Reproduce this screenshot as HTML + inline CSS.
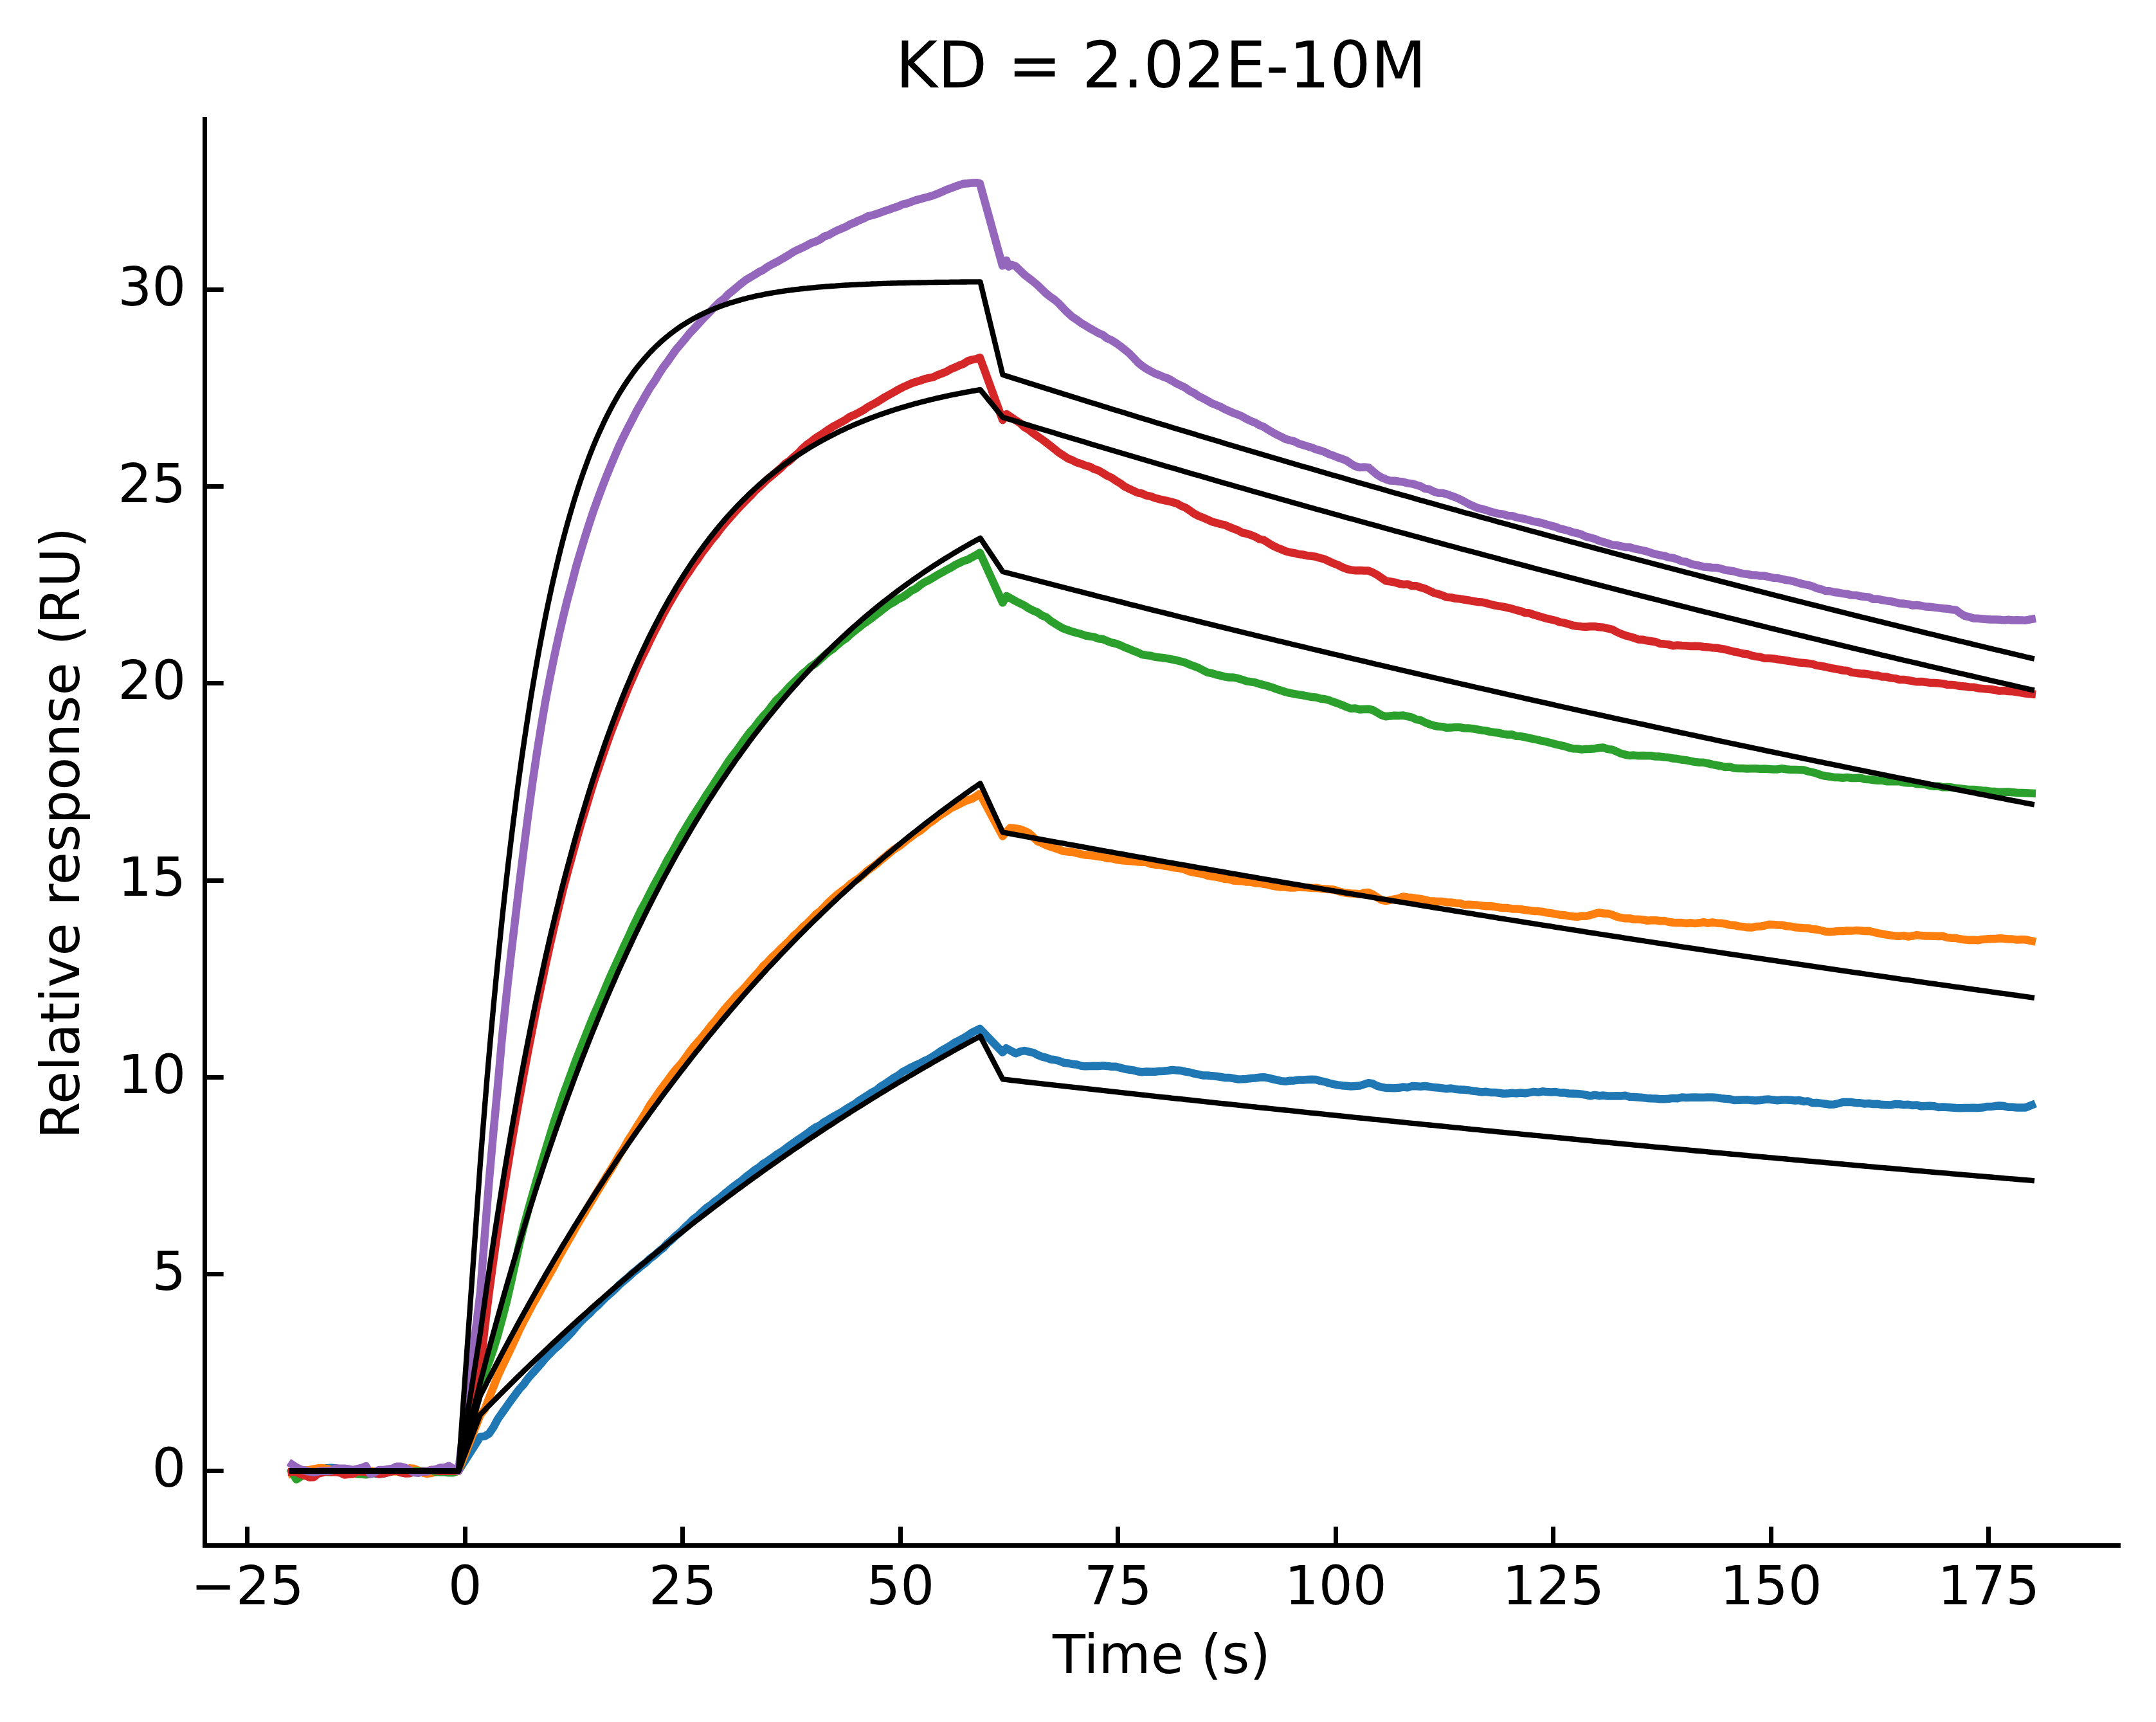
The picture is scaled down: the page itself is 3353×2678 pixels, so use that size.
<!DOCTYPE html>
<html lang="en"><head><meta charset="utf-8"><title>KD = 2.02E-10M</title>
<style>html,body{margin:0;padding:0;background:#fff}body{width:3353px;height:2678px;overflow:hidden}svg{display:block}text{font-family:"DejaVu Sans","Liberation Sans",sans-serif;fill:#000}.d{fill:none;stroke-width:12.5;stroke-linejoin:round;stroke-linecap:square}.f{fill:none;stroke:#000;stroke-width:8.333;stroke-linejoin:round;stroke-linecap:square}.t{font-size:83.33px}.h{font-size:100px}</style></head><body>
<svg width="3353" height="2678" viewBox="0 0 3353 2678">
<rect width="3353" height="2678" fill="#fff"/>
<g>
<path class="d" stroke="#1f77b4" d="M454.1 2289.5L460.9 2287.8L467.7 2286.4L474.4 2286.4L481.2 2286.4L488.0 2285.6L494.7 2284.5L501.5 2283.9L508.3 2283.2L515.1 2282.7L521.8 2283.2L528.6 2284.8L535.4 2285.7L542.1 2286.3L548.9 2287.5L555.7 2288.4L562.4 2288.6L569.2 2288.7L576.0 2289.7L582.8 2291.5L589.5 2292.4L596.3 2291.7L603.1 2290.0L609.8 2287.9L616.6 2286.3L623.4 2285.5L630.1 2285.4L636.9 2286.1L643.7 2286.9L650.5 2287.6L657.2 2288.3L664.0 2288.5L670.8 2287.6L677.5 2286.7L684.3 2286.5L691.1 2287.3L697.8 2288.5L704.6 2289.5L713.0 2287.5L747.0 2234.5L753.8 2233.6L760.5 2229.6L767.3 2219.7L774.1 2207.0L780.8 2197.4L787.6 2187.9L794.4 2178.2L801.2 2169.1L807.9 2160.1L814.7 2152.6L821.5 2143.2L828.2 2135.7L835.0 2128.1L841.8 2120.3L848.5 2112.0L855.3 2105.2L862.1 2098.2L868.9 2092.5L875.6 2085.5L882.4 2078.9L889.2 2071.9L895.9 2063.7L902.7 2055.9L909.5 2049.3L916.2 2043.4L923.0 2036.0L929.8 2030.3L936.6 2023.4L943.3 2016.7L950.1 2010.8L956.9 2004.6L963.6 1997.7L970.4 1991.9L977.2 1986.2L983.9 1979.9L990.7 1974.6L997.5 1968.8L1004.3 1963.7L1011.0 1957.3L1017.8 1952.3L1024.6 1946.2L1031.3 1940.9L1038.1 1933.6L1044.9 1927.7L1051.6 1921.3L1058.4 1915.8L1065.2 1908.7L1072.0 1902.6L1078.7 1895.7L1085.5 1890.8L1092.3 1884.1L1099.0 1878.2L1105.8 1873.7L1112.6 1867.8L1119.3 1863.0L1126.1 1857.2L1132.9 1851.7L1139.7 1846.0L1146.4 1841.2L1153.2 1836.2L1160.0 1830.3L1166.7 1825.3L1173.5 1819.7L1180.3 1815.5L1187.0 1809.9L1193.8 1805.7L1200.6 1801.0L1207.4 1795.9L1214.1 1791.8L1220.9 1787.0L1227.7 1781.8L1234.4 1777.2L1241.2 1772.5L1248.0 1767.9L1254.7 1763.2L1261.5 1758.1L1268.3 1753.2L1275.1 1750.3L1281.8 1744.9L1288.6 1741.1L1295.4 1736.9L1302.1 1733.2L1308.9 1729.4L1315.7 1724.9L1322.4 1720.9L1329.2 1716.9L1336.0 1711.8L1342.8 1707.4L1349.5 1703.3L1356.3 1698.8L1363.1 1695.2L1369.8 1689.6L1376.6 1685.5L1383.4 1680.9L1390.1 1676.2L1396.9 1672.5L1403.7 1667.0L1410.5 1663.6L1417.2 1659.8L1424.0 1656.6L1430.8 1653.8L1437.5 1650.0L1444.3 1647.1L1451.1 1642.7L1457.8 1638.4L1464.6 1633.7L1471.4 1629.8L1478.2 1625.9L1484.9 1621.4L1491.7 1618.1L1498.5 1614.4L1505.2 1610.4L1512.0 1605.6L1518.8 1602.4L1523.9 1599.8L1559.3 1636.6L1564.8 1630.2L1579.7 1638.3L1586.5 1635.4L1593.2 1634.0L1600.0 1635.6L1606.8 1637.0L1613.6 1640.6L1620.3 1643.3L1627.1 1644.9L1633.9 1647.5L1640.6 1648.3L1647.4 1650.0L1654.2 1652.8L1660.9 1653.4L1667.7 1654.9L1674.5 1655.4L1681.3 1657.7L1688.0 1658.2L1694.8 1658.0L1701.6 1657.8L1708.3 1657.9L1715.1 1657.3L1721.9 1657.9L1728.6 1658.7L1735.4 1658.8L1742.2 1660.6L1749.0 1662.3L1755.7 1663.5L1762.5 1664.4L1769.3 1666.2L1776.0 1667.2L1782.8 1666.5L1789.6 1666.8L1796.3 1666.7L1803.1 1665.9L1809.9 1665.7L1816.7 1665.0L1823.4 1663.9L1830.2 1664.6L1837.0 1665.1L1843.7 1666.6L1850.5 1667.6L1857.3 1669.7L1864.0 1670.9L1870.8 1672.5L1877.6 1672.6L1884.4 1673.2L1891.1 1673.8L1897.9 1674.8L1904.7 1675.9L1911.4 1675.9L1918.2 1677.1L1925.0 1678.4L1931.7 1678.3L1938.5 1677.9L1945.3 1677.0L1952.1 1676.5L1958.8 1675.6L1965.6 1675.2L1972.4 1676.4L1979.1 1678.1L1985.9 1679.7L1992.7 1681.1L1999.4 1681.8L2006.2 1680.7L2013.0 1680.4L2019.8 1679.5L2026.5 1679.4L2033.3 1679.0L2040.1 1678.7L2046.8 1679.0L2053.6 1681.2L2060.4 1682.4L2067.1 1684.5L2073.9 1686.1L2080.7 1687.4L2087.5 1688.3L2094.2 1688.8L2101.0 1689.5L2107.8 1688.9L2114.5 1688.6L2121.3 1686.4L2128.1 1684.2L2134.8 1685.2L2141.6 1688.7L2148.4 1690.7L2155.2 1691.9L2161.9 1692.1L2168.7 1692.2L2175.5 1691.8L2182.2 1690.5L2189.0 1691.2L2195.8 1689.1L2202.5 1689.3L2209.3 1689.7L2216.1 1689.0L2222.9 1690.0L2229.6 1691.1L2236.4 1691.5L2243.2 1692.4L2249.9 1693.2L2256.7 1692.5L2263.5 1693.9L2270.2 1694.6L2277.0 1694.7L2283.8 1695.4L2290.6 1696.6L2297.3 1697.3L2304.1 1698.4L2310.9 1697.8L2317.6 1698.9L2324.4 1698.9L2331.2 1699.8L2337.9 1700.8L2344.7 1700.6L2351.5 1699.7L2358.3 1700.4L2365.0 1699.5L2371.8 1700.3L2378.6 1699.1L2385.3 1697.9L2392.1 1698.8L2398.9 1697.3L2405.6 1698.1L2412.4 1698.4L2419.2 1698.0L2426.0 1699.4L2432.7 1699.3L2439.5 1700.5L2446.3 1700.7L2453.0 1701.0L2459.8 1701.7L2466.6 1702.9L2473.3 1704.3L2480.1 1702.9L2486.9 1704.2L2493.7 1703.6L2500.4 1704.5L2507.2 1704.4L2514.0 1704.2L2520.7 1704.4L2527.5 1703.8L2534.3 1705.8L2541.0 1706.0L2547.8 1706.4L2554.6 1707.0L2561.4 1707.9L2568.1 1708.3L2574.9 1708.4L2581.7 1709.3L2588.4 1709.2L2595.2 1708.8L2602.0 1707.9L2608.7 1708.3L2615.5 1706.4L2622.3 1706.9L2629.1 1706.7L2635.8 1706.4L2642.6 1706.7L2649.4 1706.7L2656.1 1706.6L2662.9 1706.5L2669.7 1706.9L2676.4 1708.1L2683.2 1708.8L2690.0 1709.3L2696.8 1710.9L2703.5 1710.7L2710.3 1710.5L2717.1 1710.3L2723.8 1711.1L2730.6 1711.4L2737.4 1711.0L2744.1 1710.0L2750.9 1709.6L2757.7 1710.6L2764.5 1711.2L2771.2 1710.6L2778.0 1710.5L2784.8 1710.8L2791.5 1711.4L2798.3 1711.1L2805.1 1712.9L2811.8 1712.5L2818.6 1715.2L2825.4 1715.0L2832.2 1715.9L2838.9 1716.7L2845.7 1717.8L2852.5 1717.4L2859.2 1716.0L2866.0 1714.1L2872.8 1714.1L2879.5 1714.1L2886.3 1715.2L2893.1 1715.3L2899.9 1716.5L2906.6 1716.0L2913.4 1717.1L2920.2 1716.8L2926.9 1718.1L2933.7 1718.2L2940.5 1718.4L2947.2 1717.1L2954.0 1717.3L2960.8 1718.2L2967.6 1717.8L2974.3 1719.0L2981.1 1718.4L2987.9 1720.4L2994.6 1719.9L3001.4 1719.8L3008.2 1720.2L3014.9 1722.0L3021.7 1721.6L3028.5 1722.1L3035.3 1722.5L3042.0 1723.0L3048.8 1723.3L3055.6 1723.0L3062.3 1723.0L3069.1 1722.8L3075.9 1722.9L3082.6 1722.6L3089.4 1721.1L3096.2 1721.1L3103.0 1720.1L3109.7 1719.6L3116.5 1720.1L3123.3 1721.8L3130.0 1721.8L3136.8 1722.6L3143.6 1722.4L3150.3 1722.4L3159.8 1718.6"/>
<path class="d" stroke="#ff7f0e" d="M454.1 2292.1L460.9 2290.8L467.7 2288.5L474.4 2286.8L481.2 2285.9L488.0 2284.6L494.7 2283.3L501.5 2283.1L508.3 2284.2L515.1 2285.8L521.8 2287.3L528.6 2288.6L535.4 2289.8L542.1 2290.6L548.9 2290.8L555.7 2290.1L562.4 2288.3L569.2 2287.0L576.0 2287.7L582.8 2288.6L589.5 2287.9L596.3 2286.9L603.1 2287.0L609.8 2288.2L616.6 2288.4L623.4 2287.0L630.1 2284.8L636.9 2283.3L643.7 2283.9L650.5 2286.8L657.2 2290.3L664.0 2291.9L670.8 2291.1L677.5 2289.2L684.3 2287.4L691.1 2286.0L697.8 2285.3L704.6 2285.1L713.0 2287.5L747.0 2200.4L753.8 2191.9L760.5 2174.5L767.3 2157.0L774.1 2140.2L780.8 2125.6L787.6 2111.5L794.4 2097.2L801.2 2082.8L807.9 2068.0L814.7 2054.5L821.5 2041.6L828.2 2028.8L835.0 2017.1L841.8 2004.8L848.5 1992.8L855.3 1980.6L862.1 1968.6L868.9 1955.7L875.6 1943.6L882.4 1932.0L889.2 1920.4L895.9 1908.3L902.7 1896.6L909.5 1885.7L916.2 1874.2L923.0 1863.1L929.8 1851.6L936.6 1840.5L943.3 1829.5L950.1 1818.7L956.9 1807.3L963.6 1795.6L970.4 1785.2L977.2 1772.8L983.9 1762.6L990.7 1751.4L997.5 1741.0L1004.3 1730.1L1011.0 1718.1L1017.8 1708.8L1024.6 1698.6L1031.3 1689.6L1038.1 1680.4L1044.9 1670.9L1051.6 1662.6L1058.4 1655.3L1065.2 1646.1L1072.0 1636.5L1078.7 1627.7L1085.5 1620.3L1092.3 1612.2L1099.0 1604.1L1105.8 1594.9L1112.6 1587.6L1119.3 1579.1L1126.1 1570.4L1132.9 1562.7L1139.7 1555.3L1146.4 1547.3L1153.2 1541.0L1160.0 1533.7L1166.7 1525.9L1173.5 1518.2L1180.3 1510.8L1187.0 1502.4L1193.8 1496.3L1200.6 1488.8L1207.4 1482.5L1214.1 1475.5L1220.9 1469.3L1227.7 1462.7L1234.4 1455.3L1241.2 1449.6L1248.0 1442.1L1254.7 1436.5L1261.5 1429.7L1268.3 1422.4L1275.1 1417.4L1281.8 1410.5L1288.6 1403.4L1295.4 1397.1L1302.1 1391.1L1308.9 1385.9L1315.7 1381.1L1322.4 1375.0L1329.2 1370.0L1336.0 1365.6L1342.8 1359.8L1349.5 1353.7L1356.3 1348.9L1363.1 1343.8L1369.8 1337.8L1376.6 1332.3L1383.4 1326.6L1390.1 1321.2L1396.9 1317.0L1403.7 1312.0L1410.5 1306.3L1417.2 1301.4L1424.0 1296.1L1430.8 1292.2L1437.5 1286.8L1444.3 1280.7L1451.1 1276.5L1457.8 1270.9L1464.6 1266.3L1471.4 1262.2L1478.2 1257.2L1484.9 1254.0L1491.7 1250.6L1498.5 1247.1L1505.2 1244.2L1512.0 1242.2L1518.8 1238.0L1523.9 1234.4L1559.3 1300.4L1570.9 1287.6L1579.7 1288.4L1586.5 1289.6L1593.2 1292.3L1600.0 1295.4L1606.8 1301.7L1613.6 1308.3L1620.3 1310.9L1627.1 1314.4L1633.9 1316.9L1640.6 1319.1L1647.4 1321.3L1654.2 1323.8L1660.9 1324.4L1667.7 1324.9L1674.5 1326.6L1681.3 1328.3L1688.0 1329.6L1694.8 1330.1L1701.6 1330.9L1708.3 1332.1L1715.1 1332.8L1721.9 1334.7L1728.6 1335.0L1735.4 1336.6L1742.2 1337.9L1749.0 1338.6L1755.7 1339.0L1762.5 1339.4L1769.3 1340.3L1776.0 1340.8L1782.8 1340.9L1789.6 1343.5L1796.3 1344.7L1803.1 1344.9L1809.9 1346.5L1816.7 1347.2L1823.4 1349.1L1830.2 1349.7L1837.0 1350.8L1843.7 1352.6L1850.5 1355.4L1857.3 1356.8L1864.0 1358.0L1870.8 1359.1L1877.6 1361.6L1884.4 1362.9L1891.1 1363.4L1897.9 1365.3L1904.7 1366.9L1911.4 1367.3L1918.2 1369.6L1925.0 1370.1L1931.7 1370.2L1938.5 1371.5L1945.3 1371.6L1952.1 1373.3L1958.8 1373.5L1965.6 1374.9L1972.4 1375.7L1979.1 1377.7L1985.9 1378.8L1992.7 1379.5L1999.4 1379.6L2006.2 1380.6L2013.0 1380.5L2019.8 1379.6L2026.5 1380.1L2033.3 1380.2L2040.1 1381.0L2046.8 1380.7L2053.6 1381.9L2060.4 1382.5L2067.1 1383.1L2073.9 1383.5L2080.7 1385.6L2087.5 1387.7L2094.2 1388.8L2101.0 1389.5L2107.8 1389.8L2114.5 1390.8L2121.3 1388.5L2128.1 1388.0L2134.8 1390.8L2141.6 1395.5L2148.4 1399.6L2155.2 1401.1L2161.9 1399.8L2168.7 1398.4L2175.5 1397.0L2182.2 1394.4L2189.0 1395.5L2195.8 1396.1L2202.5 1397.1L2209.3 1398.0L2216.1 1399.3L2222.9 1401.2L2229.6 1401.5L2236.4 1401.9L2243.2 1402.1L2249.9 1403.2L2256.7 1403.5L2263.5 1404.4L2270.2 1404.7L2277.0 1407.2L2283.8 1406.7L2290.6 1407.2L2297.3 1407.6L2304.1 1408.4L2310.9 1409.2L2317.6 1409.2L2324.4 1410.0L2331.2 1411.2L2337.9 1412.1L2344.7 1412.0L2351.5 1413.4L2358.3 1413.5L2365.0 1413.9L2371.8 1415.3L2378.6 1416.0L2385.3 1416.9L2392.1 1417.1L2398.9 1417.9L2405.6 1419.4L2412.4 1420.1L2419.2 1421.5L2426.0 1422.7L2432.7 1423.2L2439.5 1424.4L2446.3 1425.3L2453.0 1425.8L2459.8 1424.5L2466.6 1424.7L2473.3 1423.1L2480.1 1421.0L2486.9 1419.3L2493.7 1420.5L2500.4 1420.7L2507.2 1422.6L2514.0 1425.4L2520.7 1427.2L2527.5 1428.3L2534.3 1428.2L2541.0 1429.8L2547.8 1429.8L2554.6 1430.2L2561.4 1431.7L2568.1 1431.3L2574.9 1431.3L2581.7 1432.3L2588.4 1432.1L2595.2 1433.8L2602.0 1434.7L2608.7 1435.0L2615.5 1435.1L2622.3 1435.9L2629.1 1435.3L2635.8 1436.1L2642.6 1435.3L2649.4 1434.2L2656.1 1435.7L2662.9 1434.5L2669.7 1435.4L2676.4 1435.7L2683.2 1436.6L2690.0 1438.4L2696.8 1438.9L2703.5 1440.4L2710.3 1441.2L2717.1 1442.3L2723.8 1442.6L2730.6 1441.1L2737.4 1440.8L2744.1 1439.6L2750.9 1437.7L2757.7 1438.1L2764.5 1438.6L2771.2 1438.7L2778.0 1440.2L2784.8 1440.7L2791.5 1442.2L2798.3 1442.7L2805.1 1443.3L2811.8 1443.4L2818.6 1445.1L2825.4 1445.5L2832.2 1447.0L2838.9 1448.7L2845.7 1449.3L2852.5 1448.8L2859.2 1447.9L2866.0 1448.1L2872.8 1447.2L2879.5 1447.6L2886.3 1446.9L2893.1 1447.3L2899.9 1448.0L2906.6 1447.8L2913.4 1449.5L2920.2 1451.1L2926.9 1452.3L2933.7 1453.6L2940.5 1454.7L2947.2 1455.4L2954.0 1455.8L2960.8 1455.1L2967.6 1456.6L2974.3 1455.6L2981.1 1454.1L2987.9 1455.1L2994.6 1455.5L3001.4 1455.4L3008.2 1455.7L3014.9 1456.0L3021.7 1455.8L3028.5 1458.1L3035.3 1458.8L3042.0 1459.0L3048.8 1460.5L3055.6 1461.3L3062.3 1462.1L3069.1 1461.7L3075.9 1462.3L3082.6 1460.9L3089.4 1460.6L3096.2 1460.1L3103.0 1459.9L3109.7 1459.3L3116.5 1459.8L3123.3 1460.5L3130.0 1460.6L3136.8 1461.5L3143.6 1460.9L3150.3 1461.3L3159.8 1463.3"/>
<path class="d" stroke="#2ca02c" d="M454.1 2289.2L460.9 2300.7L467.7 2296.4L474.4 2292.2L481.2 2290.7L488.0 2289.6L494.7 2291.1L501.5 2288.5L508.3 2289.3L515.1 2289.4L521.8 2288.5L528.6 2289.9L535.4 2290.2L542.1 2291.1L548.9 2291.4L555.7 2292.3L562.4 2292.7L569.2 2293.2L576.0 2292.4L582.8 2289.3L589.5 2289.5L596.3 2288.7L603.1 2286.7L609.8 2286.3L616.6 2286.2L623.4 2287.5L630.1 2287.1L636.9 2288.1L643.7 2287.9L650.5 2288.2L657.2 2287.4L664.0 2288.0L670.8 2286.4L677.5 2289.1L684.3 2289.5L691.1 2289.6L697.8 2290.3L704.6 2290.3L713.0 2287.5L747.0 2156.5L753.8 2135.3L760.5 2118.4L767.3 2098.6L774.1 2076.4L780.8 2051.6L787.6 2025.7L794.4 1996.2L801.2 1965.0L807.9 1934.2L814.7 1906.6L821.5 1881.5L828.2 1857.8L835.0 1833.8L841.8 1810.5L848.5 1788.2L855.3 1765.8L862.1 1743.5L868.9 1723.8L875.6 1703.2L882.4 1685.2L889.2 1666.3L895.9 1648.2L902.7 1630.8L909.5 1613.8L916.2 1596.9L923.0 1579.9L929.8 1564.6L936.6 1548.5L943.3 1532.3L950.1 1516.5L956.9 1501.6L963.6 1486.8L970.4 1471.5L977.2 1457.5L983.9 1442.2L990.7 1428.4L997.5 1414.3L1004.3 1402.0L1011.0 1388.5L1017.8 1375.4L1024.6 1363.1L1031.3 1350.3L1038.1 1337.3L1044.9 1326.0L1051.6 1313.6L1058.4 1300.9L1065.2 1289.8L1072.0 1278.4L1078.7 1267.6L1085.5 1257.2L1092.3 1246.5L1099.0 1235.8L1105.8 1225.8L1112.6 1215.1L1119.3 1205.0L1126.1 1194.7L1132.9 1184.0L1139.7 1174.8L1146.4 1166.3L1153.2 1156.7L1160.0 1147.0L1166.7 1138.3L1173.5 1131.0L1180.3 1121.8L1187.0 1113.6L1193.8 1106.6L1200.6 1097.4L1207.4 1089.0L1214.1 1082.8L1220.9 1075.4L1227.7 1067.8L1234.4 1061.5L1241.2 1054.7L1248.0 1047.9L1254.7 1042.5L1261.5 1036.2L1268.3 1031.9L1275.1 1025.8L1281.8 1019.9L1288.6 1013.9L1295.4 1009.3L1302.1 1003.1L1308.9 997.4L1315.7 992.8L1322.4 986.6L1329.2 981.2L1336.0 975.9L1342.8 970.2L1349.5 965.8L1356.3 960.7L1363.1 955.5L1369.8 950.3L1376.6 945.1L1383.4 939.9L1390.1 936.5L1396.9 931.7L1403.7 928.6L1410.5 924.0L1417.2 918.9L1424.0 915.5L1430.8 910.2L1437.5 905.6L1444.3 902.4L1451.1 898.4L1457.8 894.2L1464.6 890.6L1471.4 886.6L1478.2 883.2L1484.9 878.9L1491.7 875.6L1498.5 872.4L1505.2 870.3L1512.0 866.5L1518.8 862.7L1523.9 859.5L1559.3 937.3L1565.5 926.9L1579.7 935.0L1586.5 938.4L1593.2 941.6L1600.0 946.2L1606.8 949.6L1613.6 952.4L1620.3 957.2L1627.1 959.8L1633.9 965.5L1640.6 969.8L1647.4 974.0L1654.2 977.7L1660.9 980.0L1667.7 982.3L1674.5 984.3L1681.3 986.0L1688.0 988.5L1694.8 989.6L1701.6 990.6L1708.3 993.3L1715.1 994.0L1721.9 996.8L1728.6 999.3L1735.4 1000.9L1742.2 1003.4L1749.0 1006.6L1755.7 1009.2L1762.5 1012.1L1769.3 1014.7L1776.0 1017.8L1782.8 1019.1L1789.6 1019.8L1796.3 1021.8L1803.1 1022.4L1809.9 1023.2L1816.7 1024.4L1823.4 1025.7L1830.2 1027.0L1837.0 1028.8L1843.7 1030.6L1850.5 1033.7L1857.3 1036.1L1864.0 1038.7L1870.8 1042.2L1877.6 1045.7L1884.4 1047.1L1891.1 1049.1L1897.9 1050.7L1904.7 1052.3L1911.4 1053.6L1918.2 1053.5L1925.0 1054.9L1931.7 1056.9L1938.5 1059.4L1945.3 1060.3L1952.1 1061.4L1958.8 1063.7L1965.6 1065.3L1972.4 1067.2L1979.1 1069.2L1985.9 1071.9L1992.7 1074.0L1999.4 1076.2L2006.2 1077.9L2013.0 1079.1L2019.8 1080.4L2026.5 1081.3L2033.3 1082.7L2040.1 1084.1L2046.8 1084.5L2053.6 1086.5L2060.4 1087.3L2067.1 1089.0L2073.9 1091.7L2080.7 1094.0L2087.5 1096.6L2094.2 1099.5L2101.0 1102.0L2107.8 1101.6L2114.5 1103.4L2121.3 1103.0L2128.1 1102.7L2134.8 1104.2L2141.6 1108.0L2148.4 1112.1L2155.2 1114.2L2161.9 1113.4L2168.7 1112.8L2175.5 1112.9L2182.2 1112.6L2189.0 1114.1L2195.8 1115.6L2202.5 1118.8L2209.3 1120.1L2216.1 1123.5L2222.9 1126.3L2229.6 1128.3L2236.4 1129.8L2243.2 1130.2L2249.9 1131.8L2256.7 1131.6L2263.5 1130.9L2270.2 1131.1L2277.0 1132.4L2283.8 1132.5L2290.6 1133.2L2297.3 1134.4L2304.1 1135.7L2310.9 1136.4L2317.6 1138.1L2324.4 1139.0L2331.2 1139.8L2337.9 1141.6L2344.7 1142.5L2351.5 1142.3L2358.3 1144.8L2365.0 1145.1L2371.8 1146.3L2378.6 1147.9L2385.3 1149.4L2392.1 1150.7L2398.9 1152.5L2405.6 1153.7L2412.4 1155.5L2419.2 1157.4L2426.0 1159.0L2432.7 1160.3L2439.5 1162.6L2446.3 1164.3L2453.0 1164.4L2459.8 1165.6L2466.6 1164.9L2473.3 1164.8L2480.1 1164.2L2486.9 1163.0L2493.7 1162.6L2500.4 1165.1L2507.2 1165.8L2514.0 1168.7L2520.7 1171.8L2527.5 1173.6L2534.3 1175.0L2541.0 1174.6L2547.8 1175.3L2554.6 1174.9L2561.4 1175.2L2568.1 1175.3L2574.9 1176.6L2581.7 1176.6L2588.4 1177.5L2595.2 1178.0L2602.0 1179.6L2608.7 1180.1L2615.5 1181.6L2622.3 1182.2L2629.1 1183.7L2635.8 1184.9L2642.6 1185.7L2649.4 1185.8L2656.1 1187.1L2662.9 1188.9L2669.7 1190.2L2676.4 1191.2L2683.2 1193.1L2690.0 1192.5L2696.8 1194.4L2703.5 1195.0L2710.3 1195.0L2717.1 1195.6L2723.8 1195.2L2730.6 1195.2L2737.4 1195.7L2744.1 1195.5L2750.9 1195.9L2757.7 1196.5L2764.5 1196.4L2771.2 1195.2L2778.0 1196.2L2784.8 1197.0L2791.5 1196.9L2798.3 1197.2L2805.1 1197.6L2811.8 1199.6L2818.6 1201.0L2825.4 1202.8L2832.2 1205.3L2838.9 1206.9L2845.7 1207.7L2852.5 1208.9L2859.2 1209.0L2866.0 1209.8L2872.8 1208.9L2879.5 1210.0L2886.3 1210.0L2893.1 1209.6L2899.9 1211.8L2906.6 1212.1L2913.4 1213.0L2920.2 1213.8L2926.9 1213.7L2933.7 1215.2L2940.5 1214.9L2947.2 1215.3L2954.0 1215.3L2960.8 1217.0L2967.6 1217.4L2974.3 1217.2L2981.1 1219.3L2987.9 1219.5L2994.6 1220.1L3001.4 1222.1L3008.2 1222.8L3014.9 1222.7L3021.7 1224.3L3028.5 1224.0L3035.3 1224.6L3042.0 1225.8L3048.8 1226.5L3055.6 1227.2L3062.3 1228.1L3069.1 1228.0L3075.9 1228.6L3082.6 1229.5L3089.4 1229.8L3096.2 1230.9L3103.0 1231.1L3109.7 1232.1L3116.5 1231.8L3123.3 1231.6L3130.0 1232.2L3136.8 1232.8L3143.6 1233.1L3150.3 1233.3L3159.8 1233.7"/>
<path class="d" stroke="#d62728" d="M454.1 2289.2L460.9 2289.3L467.7 2292.6L474.4 2294.7L481.2 2297.5L488.0 2297.2L494.7 2291.6L501.5 2290.1L508.3 2288.3L515.1 2289.2L521.8 2289.4L528.6 2290.2L535.4 2293.4L542.1 2292.8L548.9 2292.3L555.7 2288.6L562.4 2288.4L569.2 2289.3L576.0 2291.6L582.8 2290.4L589.5 2292.5L596.3 2291.6L603.1 2289.9L609.8 2288.3L616.6 2287.1L623.4 2290.2L630.1 2291.4L636.9 2291.3L643.7 2289.1L650.5 2289.7L657.2 2288.2L664.0 2288.4L670.8 2285.8L677.5 2286.9L684.3 2287.7L691.1 2287.6L697.8 2287.7L704.6 2287.5L713.0 2287.5L747.0 2128.5L753.8 2065.6L760.5 2010.9L767.3 1960.6L774.1 1912.6L780.8 1868.3L787.6 1826.2L794.4 1784.6L801.2 1744.9L807.9 1707.2L814.7 1669.9L821.5 1633.7L828.2 1599.4L835.0 1564.8L841.8 1532.4L848.5 1500.8L855.3 1469.6L862.1 1440.1L868.9 1411.4L875.6 1383.5L882.4 1357.7L889.2 1333.2L895.9 1308.6L902.7 1284.2L909.5 1262.1L916.2 1239.6L923.0 1217.6L929.8 1197.5L936.6 1177.6L943.3 1158.3L950.1 1138.9L956.9 1121.5L963.6 1104.2L970.4 1086.6L977.2 1069.6L983.9 1054.4L990.7 1038.6L997.5 1023.9L1004.3 1010.4L1011.0 995.9L1017.8 982.3L1024.6 969.1L1031.3 955.7L1038.1 943.2L1044.9 931.5L1051.6 919.8L1058.4 909.4L1065.2 898.1L1072.0 888.7L1078.7 878.4L1085.5 869.2L1092.3 858.8L1099.0 850.4L1105.8 841.0L1112.6 833.2L1119.3 824.0L1126.1 815.5L1132.9 807.9L1139.7 800.1L1146.4 792.6L1153.2 785.3L1160.0 778.4L1166.7 771.7L1173.5 764.2L1180.3 758.0L1187.0 751.5L1193.8 745.0L1200.6 739.6L1207.4 733.7L1214.1 728.1L1220.9 721.3L1227.7 716.8L1234.4 710.5L1241.2 704.9L1248.0 697.6L1254.7 691.7L1261.5 686.9L1268.3 681.3L1275.1 677.2L1281.8 672.7L1288.6 667.9L1295.4 663.5L1302.1 660.0L1308.9 656.3L1315.7 652.3L1322.4 647.8L1329.2 645.1L1336.0 641.5L1342.8 637.8L1349.5 633.2L1356.3 629.4L1363.1 625.8L1369.8 621.7L1376.6 617.4L1383.4 613.6L1390.1 609.9L1396.9 606.0L1403.7 602.4L1410.5 599.4L1417.2 596.3L1424.0 593.9L1430.8 592.0L1437.5 589.6L1444.3 587.8L1451.1 586.7L1457.8 583.3L1464.6 580.9L1471.4 578.2L1478.2 574.3L1484.9 571.5L1491.7 568.3L1498.5 565.8L1505.2 561.5L1512.0 559.3L1518.8 558.1L1523.9 556.0L1559.3 653.2L1565.5 644.0L1579.7 653.6L1586.5 658.0L1593.2 664.4L1600.0 668.4L1606.8 673.7L1613.6 678.6L1620.3 683.1L1627.1 688.3L1633.9 693.5L1640.6 698.8L1647.4 704.3L1654.2 708.6L1660.9 713.2L1667.7 715.7L1674.5 719.3L1681.3 721.2L1688.0 724.0L1694.8 725.7L1701.6 729.5L1708.3 731.6L1715.1 735.6L1721.9 739.9L1728.6 742.9L1735.4 747.5L1742.2 751.6L1749.0 756.7L1755.7 760.0L1762.5 763.1L1769.3 766.4L1776.0 767.5L1782.8 770.7L1789.6 771.9L1796.3 774.5L1803.1 776.3L1809.9 777.8L1816.7 779.3L1823.4 781.0L1830.2 782.9L1837.0 786.8L1843.7 789.5L1850.5 794.0L1857.3 798.9L1864.0 802.4L1870.8 805.0L1877.6 807.9L1884.4 811.2L1891.1 813.0L1897.9 815.0L1904.7 816.4L1911.4 819.4L1918.2 822.1L1925.0 824.6L1931.7 828.3L1938.5 829.8L1945.3 832.0L1952.1 834.8L1958.8 838.5L1965.6 839.9L1972.4 844.3L1979.1 848.3L1985.9 851.7L1992.7 854.4L1999.4 857.2L2006.2 859.0L2013.0 860.1L2019.8 862.1L2026.5 862.4L2033.3 864.3L2040.1 864.8L2046.8 865.9L2053.6 867.9L2060.4 869.8L2067.1 873.0L2073.9 876.2L2080.7 878.6L2087.5 882.1L2094.2 884.8L2101.0 886.4L2107.8 887.3L2114.5 887.0L2121.3 887.4L2128.1 887.4L2134.8 890.3L2141.6 893.9L2148.4 898.7L2155.2 903.3L2161.9 904.4L2168.7 905.6L2175.5 907.6L2182.2 908.9L2189.0 908.4L2195.8 911.2L2202.5 911.3L2209.3 913.5L2216.1 915.5L2222.9 918.6L2229.6 921.9L2236.4 923.8L2243.2 925.9L2249.9 928.7L2256.7 929.2L2263.5 930.8L2270.2 931.3L2277.0 932.5L2283.8 933.5L2290.6 934.8L2297.3 935.9L2304.1 936.4L2310.9 937.9L2317.6 939.7L2324.4 941.4L2331.2 942.6L2337.9 943.7L2344.7 945.1L2351.5 946.8L2358.3 948.9L2365.0 950.4L2371.8 953.1L2378.6 953.6L2385.3 956.0L2392.1 958.0L2398.9 959.9L2405.6 961.9L2412.4 963.5L2419.2 965.0L2426.0 967.6L2432.7 968.7L2439.5 970.6L2446.3 972.8L2453.0 973.7L2459.8 974.4L2466.6 974.8L2473.3 974.2L2480.1 974.2L2486.9 975.3L2493.7 975.8L2500.4 977.4L2507.2 978.8L2514.0 982.6L2520.7 985.6L2527.5 988.2L2534.3 990.0L2541.0 991.9L2547.8 994.5L2554.6 994.7L2561.4 996.3L2568.1 997.3L2574.9 998.3L2581.7 1001.0L2588.4 1001.6L2595.2 1002.4L2602.0 1004.2L2608.7 1003.4L2615.5 1004.0L2622.3 1004.3L2629.1 1004.9L2635.8 1004.7L2642.6 1004.9L2649.4 1006.0L2656.1 1006.4L2662.9 1007.3L2669.7 1007.7L2676.4 1008.9L2683.2 1010.0L2690.0 1011.7L2696.8 1013.5L2703.5 1014.7L2710.3 1016.5L2717.1 1017.2L2723.8 1019.5L2730.6 1020.9L2737.4 1021.8L2744.1 1023.7L2750.9 1023.7L2757.7 1024.2L2764.5 1025.4L2771.2 1026.3L2778.0 1027.3L2784.8 1028.4L2791.5 1029.3L2798.3 1030.6L2805.1 1030.9L2811.8 1031.8L2818.6 1032.6L2825.4 1034.9L2832.2 1035.8L2838.9 1037.0L2845.7 1038.6L2852.5 1039.9L2859.2 1041.2L2866.0 1042.5L2872.8 1043.0L2879.5 1045.6L2886.3 1046.5L2893.1 1047.6L2899.9 1047.8L2906.6 1048.7L2913.4 1050.3L2920.2 1050.5L2926.9 1052.5L2933.7 1052.6L2940.5 1054.4L2947.2 1055.1L2954.0 1057.1L2960.8 1056.9L2967.6 1058.0L2974.3 1059.1L2981.1 1060.3L2987.9 1060.0L2994.6 1060.8L3001.4 1061.9L3008.2 1062.0L3014.9 1062.6L3021.7 1063.2L3028.5 1064.8L3035.3 1064.9L3042.0 1065.8L3048.8 1067.0L3055.6 1067.4L3062.3 1068.5L3069.1 1068.7L3075.9 1070.2L3082.6 1070.9L3089.4 1071.6L3096.2 1072.0L3103.0 1073.2L3109.7 1074.6L3116.5 1074.0L3123.3 1075.0L3130.0 1075.2L3136.8 1076.3L3143.6 1077.3L3150.3 1078.5L3159.8 1079.4"/>
<path class="d" stroke="#9467bd" d="M454.1 2277.4L460.9 2281.9L467.7 2285.3L474.4 2286.9L481.2 2288.7L488.0 2289.8L494.7 2288.5L501.5 2287.6L508.3 2287.8L515.1 2287.3L521.8 2283.4L528.6 2283.8L535.4 2283.8L542.1 2284.5L548.9 2286.0L555.7 2284.4L562.4 2282.8L569.2 2280.2L576.0 2292.4L582.8 2289.6L589.5 2285.9L596.3 2286.1L603.1 2285.0L609.8 2284.0L616.6 2280.7L623.4 2280.8L630.1 2282.6L636.9 2286.4L643.7 2290.1L650.5 2290.8L657.2 2288.3L664.0 2288.5L670.8 2286.1L677.5 2285.1L684.3 2282.6L691.1 2282.5L697.8 2279.8L704.6 2283.6L713.0 2287.5L747.0 2009.8L753.8 1921.4L760.5 1838.1L767.3 1761.2L774.1 1689.0L780.8 1613.4L787.6 1548.1L794.4 1487.4L801.2 1430.1L807.9 1373.5L814.7 1318.9L821.5 1266.1L828.2 1216.7L835.0 1170.6L841.8 1128.6L848.5 1089.1L855.3 1053.8L862.1 1020.2L868.9 989.1L875.6 960.4L882.4 932.6L889.2 907.5L895.9 881.6L902.7 858.5L909.5 836.1L916.2 815.0L923.0 794.6L929.8 775.7L936.6 757.4L943.3 740.3L950.1 723.5L956.9 707.3L963.6 691.8L970.4 677.8L977.2 664.3L983.9 651.3L990.7 638.1L997.5 626.4L1004.3 614.4L1011.0 602.9L1017.8 593.2L1024.6 581.8L1031.3 571.5L1038.1 562.6L1044.9 552.8L1051.6 543.3L1058.4 535.5L1065.2 527.4L1072.0 518.9L1078.7 511.9L1085.5 504.6L1092.3 496.9L1099.0 490.1L1105.8 483.2L1112.6 476.0L1119.3 469.6L1126.1 464.6L1132.9 457.3L1139.7 451.8L1146.4 446.2L1153.2 440.7L1160.0 435.4L1166.7 431.3L1173.5 427.4L1180.3 423.0L1187.0 419.8L1193.8 414.9L1200.6 411.1L1207.4 407.7L1214.1 403.9L1220.9 400.0L1227.7 395.9L1234.4 391.5L1241.2 388.2L1248.0 385.1L1254.7 381.8L1261.5 378.1L1268.3 375.7L1275.1 372.6L1281.8 367.8L1288.6 365.6L1295.4 361.7L1302.1 358.3L1308.9 355.5L1315.7 352.6L1322.4 348.8L1329.2 346.1L1336.0 342.7L1342.8 340.0L1349.5 336.4L1356.3 334.9L1363.1 332.7L1369.8 330.4L1376.6 327.9L1383.4 325.7L1390.1 323.2L1396.9 321.0L1403.7 317.9L1410.5 316.3L1417.2 313.9L1424.0 311.4L1430.8 309.6L1437.5 307.8L1444.3 305.9L1451.1 304.0L1457.8 301.4L1464.6 298.5L1471.4 295.4L1478.2 292.9L1484.9 290.4L1491.7 287.9L1498.5 285.7L1505.2 285.3L1512.0 284.4L1518.8 284.2L1523.9 285.4L1559.0 413.2L1565.1 404.9L1568.6 414.7L1573.6 411.9L1579.7 414.2L1586.5 420.7L1593.2 427.3L1600.0 432.5L1606.8 437.8L1613.6 443.5L1620.3 450.0L1627.1 456.5L1633.9 461.9L1640.6 466.5L1647.4 472.7L1654.2 480.1L1660.9 486.7L1667.7 492.8L1674.5 497.2L1681.3 502.3L1688.0 506.2L1694.8 510.5L1701.6 514.2L1708.3 518.1L1715.1 521.0L1721.9 526.3L1728.6 529.1L1735.4 533.4L1742.2 538.3L1749.0 543.6L1755.7 549.0L1762.5 556.0L1769.3 563.3L1776.0 568.8L1782.8 573.5L1789.6 577.2L1796.3 580.9L1803.1 583.4L1809.9 586.4L1816.7 588.7L1823.4 592.5L1830.2 596.7L1837.0 599.9L1843.7 603.2L1850.5 608.1L1857.3 611.4L1864.0 616.1L1870.8 619.5L1877.6 623.1L1884.4 627.0L1891.1 629.7L1897.9 632.5L1904.7 636.3L1911.4 639.2L1918.2 642.3L1925.0 644.7L1931.7 647.6L1938.5 651.5L1945.3 654.7L1952.1 657.4L1958.8 661.2L1965.6 664.0L1972.4 668.4L1979.1 672.3L1985.9 676.2L1992.7 679.4L1999.4 682.9L2006.2 684.7L2013.0 686.4L2019.8 690.0L2026.5 692.0L2033.3 694.1L2040.1 696.1L2046.8 698.9L2053.6 700.7L2060.4 703.1L2067.1 706.4L2073.9 708.7L2080.7 711.5L2087.5 713.7L2094.2 716.4L2101.0 721.2L2107.8 725.1L2114.5 726.9L2121.3 726.4L2128.1 726.9L2134.8 732.5L2141.6 738.2L2148.4 742.5L2155.2 745.3L2161.9 747.6L2168.7 747.8L2175.5 748.8L2182.2 749.5L2189.0 751.4L2195.8 752.3L2202.5 754.1L2209.3 756.3L2216.1 759.9L2222.9 761.0L2229.6 764.4L2236.4 766.4L2243.2 766.7L2249.9 768.5L2256.7 771.0L2263.5 773.3L2270.2 776.4L2277.0 779.8L2283.8 783.7L2290.6 786.8L2297.3 789.8L2304.1 791.4L2310.9 793.2L2317.6 795.6L2324.4 797.4L2331.2 799.0L2337.9 799.8L2344.7 801.9L2351.5 802.2L2358.3 804.5L2365.0 805.9L2371.8 807.2L2378.6 809.0L2385.3 810.9L2392.1 812.1L2398.9 813.7L2405.6 815.8L2412.4 817.6L2419.2 819.4L2426.0 822.2L2432.7 823.7L2439.5 825.5L2446.3 827.9L2453.0 829.2L2459.8 831.3L2466.6 834.7L2473.3 836.2L2480.1 838.0L2486.9 840.9L2493.7 843.0L2500.4 845.0L2507.2 847.4L2514.0 847.8L2520.7 849.3L2527.5 850.9L2534.3 851.0L2541.0 853.1L2547.8 854.5L2554.6 856.0L2561.4 857.6L2568.1 859.9L2574.9 861.9L2581.7 863.5L2588.4 864.5L2595.2 866.9L2602.0 867.8L2608.7 869.9L2615.5 872.9L2622.3 873.8L2629.1 876.8L2635.8 878.3L2642.6 879.7L2649.4 881.4L2656.1 882.0L2662.9 882.7L2669.7 882.9L2676.4 884.4L2683.2 886.5L2690.0 887.5L2696.8 888.5L2703.5 890.5L2710.3 892.1L2717.1 892.9L2723.8 894.2L2730.6 894.5L2737.4 895.5L2744.1 895.6L2750.9 897.2L2757.7 898.7L2764.5 899.0L2771.2 900.6L2778.0 902.1L2784.8 902.9L2791.5 904.8L2798.3 906.9L2805.1 908.6L2811.8 909.8L2818.6 911.8L2825.4 914.8L2832.2 916.3L2838.9 919.0L2845.7 919.3L2852.5 921.0L2859.2 921.7L2866.0 923.1L2872.8 923.9L2879.5 925.6L2886.3 925.7L2893.1 927.2L2899.9 928.1L2906.6 928.7L2913.4 931.8L2920.2 931.5L2926.9 933.1L2933.7 934.2L2940.5 935.1L2947.2 936.7L2954.0 938.3L2960.8 938.8L2967.6 939.6L2974.3 941.4L2981.1 941.0L2987.9 942.0L2994.6 943.5L3001.4 943.8L3008.2 944.6L3014.9 945.4L3021.7 946.3L3028.5 946.7L3035.3 948.0L3042.0 948.7L3048.8 953.9L3055.6 957.8L3062.3 959.3L3069.1 961.7L3075.9 961.8L3082.6 962.4L3089.4 962.9L3096.2 963.4L3103.0 963.4L3109.7 963.7L3116.5 964.4L3123.3 963.8L3130.0 964.4L3136.8 964.2L3143.6 964.5L3150.3 964.7L3159.8 963.0"/>
<path class="f" d="M454.1 2287.5L713.0 2287.5L747.0 2199.8L750.4 2196.3L753.8 2192.9L757.1 2189.4L760.5 2186.0L763.9 2182.5L767.3 2179.1L770.7 2175.7L774.1 2172.3L777.5 2168.9L780.8 2165.5L784.2 2162.1L787.6 2158.7L791.0 2155.4L794.4 2152.0L797.8 2148.7L801.2 2145.3L804.5 2142.0L807.9 2138.7L811.3 2135.4L814.7 2132.1L818.1 2128.8L821.5 2125.5L824.8 2122.3L828.2 2119.0L831.6 2115.8L835.0 2112.5L838.4 2109.3L841.8 2106.1L845.2 2102.9L848.5 2099.7L851.9 2096.5L855.3 2093.3L858.7 2090.1L862.1 2086.9L865.5 2083.8L868.9 2080.6L872.2 2077.5L875.6 2074.4L879.0 2071.2L882.4 2068.1L885.8 2065.0L889.2 2061.9L892.5 2058.8L895.9 2055.8L899.3 2052.7L902.7 2049.6L906.1 2046.6L909.5 2043.5L912.9 2040.5L916.2 2037.5L919.6 2034.4L923.0 2031.4L926.4 2028.4L929.8 2025.4L933.2 2022.5L936.6 2019.5L939.9 2016.5L943.3 2013.5L946.7 2010.6L950.1 2007.7L953.5 2004.7L956.9 2001.8L960.2 1998.9L963.6 1996.0L967.0 1993.1L970.4 1990.2L973.8 1987.3L977.2 1984.4L980.6 1981.5L983.9 1978.7L987.3 1975.8L990.7 1973.0L994.1 1970.1L997.5 1967.3L1000.9 1964.5L1004.3 1961.7L1007.6 1958.9L1011.0 1956.1L1014.4 1953.3L1017.8 1950.5L1021.2 1947.7L1024.6 1945.0L1027.9 1942.2L1031.3 1939.5L1034.7 1936.7L1038.1 1934.0L1041.5 1931.3L1044.9 1928.5L1048.3 1925.8L1051.6 1923.1L1055.0 1920.4L1058.4 1917.7L1061.8 1915.1L1065.2 1912.4L1068.6 1909.7L1072.0 1907.1L1075.3 1904.4L1078.7 1901.8L1082.1 1899.1L1085.5 1896.5L1088.9 1893.9L1092.3 1891.3L1095.6 1888.7L1099.0 1886.1L1102.4 1883.5L1105.8 1880.9L1109.2 1878.3L1112.6 1875.7L1116.0 1873.2L1119.3 1870.6L1122.7 1868.1L1126.1 1865.5L1129.5 1863.0L1132.9 1860.5L1136.3 1857.9L1139.7 1855.4L1143.0 1852.9L1146.4 1850.4L1149.8 1847.9L1153.2 1845.5L1156.6 1843.0L1160.0 1840.5L1163.3 1838.0L1166.7 1835.6L1170.1 1833.1L1173.5 1830.7L1176.9 1828.3L1180.3 1825.8L1183.7 1823.4L1187.0 1821.0L1190.4 1818.6L1193.8 1816.2L1197.2 1813.8L1200.6 1811.4L1204.0 1809.0L1207.4 1806.6L1210.7 1804.3L1214.1 1801.9L1217.5 1799.6L1220.9 1797.2L1224.3 1794.9L1227.7 1792.5L1231.0 1790.2L1234.4 1787.9L1237.8 1785.6L1241.2 1783.3L1244.6 1781.0L1248.0 1778.7L1251.4 1776.4L1254.7 1774.1L1258.1 1771.8L1261.5 1769.6L1264.9 1767.3L1268.3 1765.0L1271.7 1762.8L1275.1 1760.5L1278.4 1758.3L1281.8 1756.1L1285.2 1753.8L1288.6 1751.6L1292.0 1749.4L1295.4 1747.2L1298.8 1745.0L1302.1 1742.8L1305.5 1740.6L1308.9 1738.4L1312.3 1736.3L1315.7 1734.1L1319.1 1731.9L1322.4 1729.8L1325.8 1727.6L1329.2 1725.5L1332.6 1723.3L1336.0 1721.2L1339.4 1719.1L1342.8 1717.0L1346.1 1714.9L1349.5 1712.7L1352.9 1710.6L1356.3 1708.5L1359.7 1706.5L1363.1 1704.4L1366.4 1702.3L1369.8 1700.2L1373.2 1698.1L1376.6 1696.1L1380.0 1694.0L1383.4 1692.0L1386.8 1689.9L1390.1 1687.9L1393.5 1685.9L1396.9 1683.8L1400.3 1681.8L1403.7 1679.8L1407.1 1677.8L1410.5 1675.8L1413.8 1673.8L1417.2 1671.8L1420.6 1669.8L1424.0 1667.8L1427.4 1665.9L1430.8 1663.9L1434.1 1661.9L1437.5 1660.0L1440.9 1658.0L1444.3 1656.1L1447.7 1654.1L1451.1 1652.2L1454.5 1650.2L1457.8 1648.3L1461.2 1646.4L1464.6 1644.5L1468.0 1642.6L1471.4 1640.7L1474.8 1638.8L1478.2 1636.9L1481.5 1635.0L1484.9 1633.1L1488.3 1631.2L1491.7 1629.3L1495.1 1627.5L1498.5 1625.6L1501.8 1623.8L1505.2 1621.9L1508.6 1620.1L1512.0 1618.2L1515.4 1616.4L1518.8 1614.6L1522.2 1612.7L1524.5 1611.5L1559.4 1678.4L1566.2 1679.2L1572.9 1680.0L1579.7 1680.7L1586.5 1681.5L1593.2 1682.3L1600.0 1683.0L1606.8 1683.8L1613.6 1684.6L1620.3 1685.3L1627.1 1686.1L1633.9 1686.8L1640.6 1687.6L1647.4 1688.4L1654.2 1689.1L1660.9 1689.9L1667.7 1690.6L1674.5 1691.4L1681.3 1692.1L1688.0 1692.9L1694.8 1693.6L1701.6 1694.4L1708.3 1695.1L1715.1 1695.9L1721.9 1696.6L1728.6 1697.4L1735.4 1698.1L1742.2 1698.9L1749.0 1699.6L1755.7 1700.4L1762.5 1701.1L1769.3 1701.9L1776.0 1702.6L1782.8 1703.3L1789.6 1704.1L1796.3 1704.8L1803.1 1705.6L1809.9 1706.3L1816.7 1707.0L1823.4 1707.8L1830.2 1708.5L1837.0 1709.2L1843.7 1710.0L1850.5 1710.7L1857.3 1711.4L1864.0 1712.1L1870.8 1712.9L1877.6 1713.6L1884.4 1714.3L1891.1 1715.1L1897.9 1715.8L1904.7 1716.5L1911.4 1717.2L1918.2 1717.9L1925.0 1718.7L1931.7 1719.4L1938.5 1720.1L1945.3 1720.8L1952.1 1721.5L1958.8 1722.3L1965.6 1723.0L1972.4 1723.7L1979.1 1724.4L1985.9 1725.1L1992.7 1725.8L1999.4 1726.5L2006.2 1727.2L2013.0 1727.9L2019.8 1728.7L2026.5 1729.4L2033.3 1730.1L2040.1 1730.8L2046.8 1731.5L2053.6 1732.2L2060.4 1732.9L2067.1 1733.6L2073.9 1734.3L2080.7 1735.0L2087.5 1735.7L2094.2 1736.4L2101.0 1737.1L2107.8 1737.8L2114.5 1738.5L2121.3 1739.2L2128.1 1739.9L2134.8 1740.6L2141.6 1741.2L2148.4 1741.9L2155.2 1742.6L2161.9 1743.3L2168.7 1744.0L2175.5 1744.7L2182.2 1745.4L2189.0 1746.1L2195.8 1746.8L2202.5 1747.4L2209.3 1748.1L2216.1 1748.8L2222.9 1749.5L2229.6 1750.2L2236.4 1750.8L2243.2 1751.5L2249.9 1752.2L2256.7 1752.9L2263.5 1753.6L2270.2 1754.2L2277.0 1754.9L2283.8 1755.6L2290.6 1756.3L2297.3 1756.9L2304.1 1757.6L2310.9 1758.3L2317.6 1758.9L2324.4 1759.6L2331.2 1760.3L2337.9 1760.9L2344.7 1761.6L2351.5 1762.3L2358.3 1762.9L2365.0 1763.6L2371.8 1764.3L2378.6 1764.9L2385.3 1765.6L2392.1 1766.2L2398.9 1766.9L2405.6 1767.6L2412.4 1768.2L2419.2 1768.9L2426.0 1769.5L2432.7 1770.2L2439.5 1770.8L2446.3 1771.5L2453.0 1772.2L2459.8 1772.8L2466.6 1773.5L2473.3 1774.1L2480.1 1774.8L2486.9 1775.4L2493.7 1776.1L2500.4 1776.7L2507.2 1777.3L2514.0 1778.0L2520.7 1778.6L2527.5 1779.3L2534.3 1779.9L2541.0 1780.6L2547.8 1781.2L2554.6 1781.8L2561.4 1782.5L2568.1 1783.1L2574.9 1783.8L2581.7 1784.4L2588.4 1785.0L2595.2 1785.7L2602.0 1786.3L2608.7 1786.9L2615.5 1787.6L2622.3 1788.2L2629.1 1788.8L2635.8 1789.5L2642.6 1790.1L2649.4 1790.7L2656.1 1791.4L2662.9 1792.0L2669.7 1792.6L2676.4 1793.2L2683.2 1793.9L2690.0 1794.5L2696.8 1795.1L2703.5 1795.7L2710.3 1796.4L2717.1 1797.0L2723.8 1797.6L2730.6 1798.2L2737.4 1798.8L2744.1 1799.5L2750.9 1800.1L2757.7 1800.7L2764.5 1801.3L2771.2 1801.9L2778.0 1802.5L2784.8 1803.1L2791.5 1803.8L2798.3 1804.4L2805.1 1805.0L2811.8 1805.6L2818.6 1806.2L2825.4 1806.8L2832.2 1807.4L2838.9 1808.0L2845.7 1808.6L2852.5 1809.2L2859.2 1809.8L2866.0 1810.5L2872.8 1811.1L2879.5 1811.7L2886.3 1812.3L2893.1 1812.9L2899.9 1813.5L2906.6 1814.1L2913.4 1814.7L2920.2 1815.3L2926.9 1815.9L2933.7 1816.5L2940.5 1817.0L2947.2 1817.6L2954.0 1818.2L2960.8 1818.8L2967.6 1819.4L2974.3 1820.0L2981.1 1820.6L2987.9 1821.2L2994.6 1821.8L3001.4 1822.4L3008.2 1823.0L3014.9 1823.6L3021.7 1824.1L3028.5 1824.7L3035.3 1825.3L3042.0 1825.9L3048.8 1826.5L3055.6 1827.1L3062.3 1827.6L3069.1 1828.2L3075.9 1828.8L3082.6 1829.4L3089.4 1830.0L3096.2 1830.5L3103.0 1831.1L3109.7 1831.7L3116.5 1832.3L3123.3 1832.9L3130.0 1833.4L3136.8 1834.0L3143.6 1834.6L3150.3 1835.2L3157.1 1835.7L3159.8 1836.0"/>
<path class="f" d="M454.1 2287.5L713.0 2287.5L747.0 2170.4L750.4 2163.8L753.8 2157.1L757.1 2150.5L760.5 2143.9L763.9 2137.3L767.3 2130.7L770.7 2124.2L774.1 2117.7L777.5 2111.3L780.8 2104.9L784.2 2098.5L787.6 2092.1L791.0 2085.8L794.4 2079.5L797.8 2073.2L801.2 2066.9L804.5 2060.7L807.9 2054.5L811.3 2048.4L814.7 2042.2L818.1 2036.1L821.5 2030.1L824.8 2024.0L828.2 2018.0L831.6 2012.0L835.0 2006.0L838.4 2000.1L841.8 1994.2L845.2 1988.3L848.5 1982.4L851.9 1976.6L855.3 1970.8L858.7 1965.0L862.1 1959.2L865.5 1953.5L868.9 1947.8L872.2 1942.1L875.6 1936.5L879.0 1930.9L882.4 1925.3L885.8 1919.7L889.2 1914.2L892.5 1908.6L895.9 1903.1L899.3 1897.7L902.7 1892.2L906.1 1886.8L909.5 1881.4L912.9 1876.1L916.2 1870.7L919.6 1865.4L923.0 1860.1L926.4 1854.8L929.8 1849.6L933.2 1844.3L936.6 1839.1L939.9 1834.0L943.3 1828.8L946.7 1823.7L950.1 1818.6L953.5 1813.5L956.9 1808.4L960.2 1803.4L963.6 1798.4L967.0 1793.4L970.4 1788.4L973.8 1783.5L977.2 1778.6L980.6 1773.7L983.9 1768.8L987.3 1764.0L990.7 1759.1L994.1 1754.3L997.5 1749.5L1000.9 1744.8L1004.3 1740.0L1007.6 1735.3L1011.0 1730.6L1014.4 1725.9L1017.8 1721.3L1021.2 1716.6L1024.6 1712.0L1027.9 1707.4L1031.3 1702.8L1034.7 1698.3L1038.1 1693.8L1041.5 1689.3L1044.9 1684.8L1048.3 1680.3L1051.6 1675.9L1055.0 1671.4L1058.4 1667.0L1061.8 1662.6L1065.2 1658.3L1068.6 1653.9L1072.0 1649.6L1075.3 1645.3L1078.7 1641.0L1082.1 1636.7L1085.5 1632.5L1088.9 1628.3L1092.3 1624.0L1095.6 1619.9L1099.0 1615.7L1102.4 1611.5L1105.8 1607.4L1109.2 1603.3L1112.6 1599.2L1116.0 1595.1L1119.3 1591.1L1122.7 1587.0L1126.1 1583.0L1129.5 1579.0L1132.9 1575.0L1136.3 1571.0L1139.7 1567.1L1143.0 1563.2L1146.4 1559.3L1149.8 1555.4L1153.2 1551.5L1156.6 1547.6L1160.0 1543.8L1163.3 1540.0L1166.7 1536.2L1170.1 1532.4L1173.5 1528.6L1176.9 1524.9L1180.3 1521.1L1183.7 1517.4L1187.0 1513.7L1190.4 1510.0L1193.8 1506.3L1197.2 1502.7L1200.6 1499.1L1204.0 1495.4L1207.4 1491.8L1210.7 1488.3L1214.1 1484.7L1217.5 1481.1L1220.9 1477.6L1224.3 1474.1L1227.7 1470.6L1231.0 1467.1L1234.4 1463.6L1237.8 1460.2L1241.2 1456.7L1244.6 1453.3L1248.0 1449.9L1251.4 1446.5L1254.7 1443.1L1258.1 1439.8L1261.5 1436.4L1264.9 1433.1L1268.3 1429.8L1271.7 1426.5L1275.1 1423.2L1278.4 1419.9L1281.8 1416.7L1285.2 1413.4L1288.6 1410.2L1292.0 1407.0L1295.4 1403.8L1298.8 1400.6L1302.1 1397.5L1305.5 1394.3L1308.9 1391.2L1312.3 1388.1L1315.7 1384.9L1319.1 1381.8L1322.4 1378.8L1325.8 1375.7L1329.2 1372.7L1332.6 1369.6L1336.0 1366.6L1339.4 1363.6L1342.8 1360.6L1346.1 1357.6L1349.5 1354.6L1352.9 1351.7L1356.3 1348.7L1359.7 1345.8L1363.1 1342.9L1366.4 1340.0L1369.8 1337.1L1373.2 1334.2L1376.6 1331.4L1380.0 1328.5L1383.4 1325.7L1386.8 1322.9L1390.1 1320.1L1393.5 1317.3L1396.9 1314.5L1400.3 1311.7L1403.7 1308.9L1407.1 1306.2L1410.5 1303.5L1413.8 1300.7L1417.2 1298.0L1420.6 1295.3L1424.0 1292.7L1427.4 1290.0L1430.8 1287.3L1434.1 1284.7L1437.5 1282.0L1440.9 1279.4L1444.3 1276.8L1447.7 1274.2L1451.1 1271.6L1454.5 1269.0L1457.8 1266.5L1461.2 1263.9L1464.6 1261.4L1468.0 1258.9L1471.4 1256.4L1474.8 1253.8L1478.2 1251.4L1481.5 1248.9L1484.9 1246.4L1488.3 1243.9L1491.7 1241.5L1495.1 1239.1L1498.5 1236.6L1501.8 1234.2L1505.2 1231.8L1508.6 1229.4L1512.0 1227.0L1515.4 1224.7L1518.8 1222.3L1522.2 1220.0L1524.5 1218.4L1559.4 1294.3L1566.2 1295.6L1572.9 1296.8L1579.7 1298.1L1586.5 1299.3L1593.2 1300.6L1600.0 1301.8L1606.8 1303.1L1613.6 1304.3L1620.3 1305.6L1627.1 1306.8L1633.9 1308.0L1640.6 1309.3L1647.4 1310.5L1654.2 1311.7L1660.9 1313.0L1667.7 1314.2L1674.5 1315.4L1681.3 1316.7L1688.0 1317.9L1694.8 1319.1L1701.6 1320.4L1708.3 1321.6L1715.1 1322.8L1721.9 1324.0L1728.6 1325.2L1735.4 1326.5L1742.2 1327.7L1749.0 1328.9L1755.7 1330.1L1762.5 1331.3L1769.3 1332.5L1776.0 1333.7L1782.8 1334.9L1789.6 1336.1L1796.3 1337.3L1803.1 1338.6L1809.9 1339.8L1816.7 1341.0L1823.4 1342.1L1830.2 1343.3L1837.0 1344.5L1843.7 1345.7L1850.5 1346.9L1857.3 1348.1L1864.0 1349.3L1870.8 1350.5L1877.6 1351.7L1884.4 1352.9L1891.1 1354.0L1897.9 1355.2L1904.7 1356.4L1911.4 1357.6L1918.2 1358.8L1925.0 1359.9L1931.7 1361.1L1938.5 1362.3L1945.3 1363.4L1952.1 1364.6L1958.8 1365.8L1965.6 1367.0L1972.4 1368.1L1979.1 1369.3L1985.9 1370.4L1992.7 1371.6L1999.4 1372.8L2006.2 1373.9L2013.0 1375.1L2019.8 1376.2L2026.5 1377.4L2033.3 1378.5L2040.1 1379.7L2046.8 1380.8L2053.6 1382.0L2060.4 1383.1L2067.1 1384.3L2073.9 1385.4L2080.7 1386.6L2087.5 1387.7L2094.2 1388.8L2101.0 1390.0L2107.8 1391.1L2114.5 1392.2L2121.3 1393.4L2128.1 1394.5L2134.8 1395.6L2141.6 1396.8L2148.4 1397.9L2155.2 1399.0L2161.9 1400.1L2168.7 1401.3L2175.5 1402.4L2182.2 1403.5L2189.0 1404.6L2195.8 1405.7L2202.5 1406.8L2209.3 1408.0L2216.1 1409.1L2222.9 1410.2L2229.6 1411.3L2236.4 1412.4L2243.2 1413.5L2249.9 1414.6L2256.7 1415.7L2263.5 1416.8L2270.2 1417.9L2277.0 1419.0L2283.8 1420.1L2290.6 1421.2L2297.3 1422.3L2304.1 1423.4L2310.9 1424.5L2317.6 1425.6L2324.4 1426.7L2331.2 1427.8L2337.9 1428.9L2344.7 1430.0L2351.5 1431.0L2358.3 1432.1L2365.0 1433.2L2371.8 1434.3L2378.6 1435.4L2385.3 1436.4L2392.1 1437.5L2398.9 1438.6L2405.6 1439.7L2412.4 1440.7L2419.2 1441.8L2426.0 1442.9L2432.7 1444.0L2439.5 1445.0L2446.3 1446.1L2453.0 1447.1L2459.8 1448.2L2466.6 1449.3L2473.3 1450.3L2480.1 1451.4L2486.9 1452.5L2493.7 1453.5L2500.4 1454.6L2507.2 1455.6L2514.0 1456.7L2520.7 1457.7L2527.5 1458.8L2534.3 1459.8L2541.0 1460.9L2547.8 1461.9L2554.6 1463.0L2561.4 1464.0L2568.1 1465.0L2574.9 1466.1L2581.7 1467.1L2588.4 1468.2L2595.2 1469.2L2602.0 1470.2L2608.7 1471.3L2615.5 1472.3L2622.3 1473.3L2629.1 1474.4L2635.8 1475.4L2642.6 1476.4L2649.4 1477.4L2656.1 1478.5L2662.9 1479.5L2669.7 1480.5L2676.4 1481.5L2683.2 1482.6L2690.0 1483.6L2696.8 1484.6L2703.5 1485.6L2710.3 1486.6L2717.1 1487.6L2723.8 1488.6L2730.6 1489.7L2737.4 1490.7L2744.1 1491.7L2750.9 1492.7L2757.7 1493.7L2764.5 1494.7L2771.2 1495.7L2778.0 1496.7L2784.8 1497.7L2791.5 1498.7L2798.3 1499.7L2805.1 1500.7L2811.8 1501.7L2818.6 1502.7L2825.4 1503.7L2832.2 1504.7L2838.9 1505.7L2845.7 1506.6L2852.5 1507.6L2859.2 1508.6L2866.0 1509.6L2872.8 1510.6L2879.5 1511.6L2886.3 1512.6L2893.1 1513.5L2899.9 1514.5L2906.6 1515.5L2913.4 1516.5L2920.2 1517.4L2926.9 1518.4L2933.7 1519.4L2940.5 1520.4L2947.2 1521.3L2954.0 1522.3L2960.8 1523.3L2967.6 1524.2L2974.3 1525.2L2981.1 1526.2L2987.9 1527.1L2994.6 1528.1L3001.4 1529.1L3008.2 1530.0L3014.9 1531.0L3021.7 1531.9L3028.5 1532.9L3035.3 1533.8L3042.0 1534.8L3048.8 1535.7L3055.6 1536.7L3062.3 1537.6L3069.1 1538.6L3075.9 1539.5L3082.6 1540.5L3089.4 1541.4L3096.2 1542.4L3103.0 1543.3L3109.7 1544.3L3116.5 1545.2L3123.3 1546.1L3130.0 1547.1L3136.8 1548.0L3143.6 1549.0L3150.3 1549.9L3157.1 1550.8L3159.8 1551.2"/>
<path class="f" d="M454.1 2287.5L713.0 2287.5L747.0 2149.6L750.4 2136.6L753.8 2123.7L757.1 2110.9L760.5 2098.2L763.9 2085.7L767.3 2073.2L770.7 2060.9L774.1 2048.6L777.5 2036.5L780.8 2024.5L784.2 2012.5L787.6 2000.7L791.0 1989.0L794.4 1977.3L797.8 1965.8L801.2 1954.4L804.5 1943.0L807.9 1931.8L811.3 1920.7L814.7 1909.6L818.1 1898.7L821.5 1887.8L824.8 1877.0L828.2 1866.4L831.6 1855.8L835.0 1845.3L838.4 1834.9L841.8 1824.5L845.2 1814.3L848.5 1804.2L851.9 1794.1L855.3 1784.1L858.7 1774.3L862.1 1764.4L865.5 1754.7L868.9 1745.1L872.2 1735.5L875.6 1726.1L879.0 1716.7L882.4 1707.4L885.8 1698.1L889.2 1689.0L892.5 1679.9L895.9 1670.9L899.3 1662.0L902.7 1653.1L906.1 1644.3L909.5 1635.7L912.9 1627.0L916.2 1618.5L919.6 1610.0L923.0 1601.6L926.4 1593.3L929.8 1585.0L933.2 1576.8L936.6 1568.7L939.9 1560.6L943.3 1552.6L946.7 1544.7L950.1 1536.9L953.5 1529.1L956.9 1521.4L960.2 1513.7L963.6 1506.1L967.0 1498.6L970.4 1491.2L973.8 1483.8L977.2 1476.4L980.6 1469.2L983.9 1462.0L987.3 1454.8L990.7 1447.7L994.1 1440.7L997.5 1433.8L1000.9 1426.8L1004.3 1420.0L1007.6 1413.2L1011.0 1406.5L1014.4 1399.8L1017.8 1393.2L1021.2 1386.6L1024.6 1380.1L1027.9 1373.7L1031.3 1367.3L1034.7 1360.9L1038.1 1354.7L1041.5 1348.4L1044.9 1342.3L1048.3 1336.1L1051.6 1330.1L1055.0 1324.0L1058.4 1318.1L1061.8 1312.1L1065.2 1306.3L1068.6 1300.5L1072.0 1294.7L1075.3 1289.0L1078.7 1283.3L1082.1 1277.7L1085.5 1272.1L1088.9 1266.6L1092.3 1261.1L1095.6 1255.6L1099.0 1250.3L1102.4 1244.9L1105.8 1239.6L1109.2 1234.4L1112.6 1229.1L1116.0 1224.0L1119.3 1218.9L1122.7 1213.8L1126.1 1208.8L1129.5 1203.8L1132.9 1198.8L1136.3 1193.9L1139.7 1189.1L1143.0 1184.2L1146.4 1179.4L1149.8 1174.7L1153.2 1170.0L1156.6 1165.3L1160.0 1160.7L1163.3 1156.1L1166.7 1151.6L1170.1 1147.1L1173.5 1142.6L1176.9 1138.2L1180.3 1133.8L1183.7 1129.5L1187.0 1125.2L1190.4 1120.9L1193.8 1116.6L1197.2 1112.4L1200.6 1108.3L1204.0 1104.1L1207.4 1100.0L1210.7 1096.0L1214.1 1091.9L1217.5 1087.9L1220.9 1084.0L1224.3 1080.0L1227.7 1076.1L1231.0 1072.3L1234.4 1068.5L1237.8 1064.7L1241.2 1060.9L1244.6 1057.2L1248.0 1053.5L1251.4 1049.8L1254.7 1046.2L1258.1 1042.6L1261.5 1039.0L1264.9 1035.4L1268.3 1031.9L1271.7 1028.4L1275.1 1025.0L1278.4 1021.6L1281.8 1018.2L1285.2 1014.8L1288.6 1011.5L1292.0 1008.1L1295.4 1004.9L1298.8 1001.6L1302.1 998.4L1305.5 995.2L1308.9 992.0L1312.3 988.9L1315.7 985.7L1319.1 982.6L1322.4 979.6L1325.8 976.5L1329.2 973.5L1332.6 970.5L1336.0 967.6L1339.4 964.6L1342.8 961.7L1346.1 958.8L1349.5 956.0L1352.9 953.1L1356.3 950.3L1359.7 947.5L1363.1 944.8L1366.4 942.0L1369.8 939.3L1373.2 936.6L1376.6 933.9L1380.0 931.3L1383.4 928.7L1386.8 926.1L1390.1 923.5L1393.5 920.9L1396.9 918.4L1400.3 915.8L1403.7 913.4L1407.1 910.9L1410.5 908.4L1413.8 906.0L1417.2 903.6L1420.6 901.2L1424.0 898.8L1427.4 896.5L1430.8 894.1L1434.1 891.8L1437.5 889.5L1440.9 887.2L1444.3 885.0L1447.7 882.8L1451.1 880.5L1454.5 878.3L1457.8 876.2L1461.2 874.0L1464.6 871.9L1468.0 869.7L1471.4 867.6L1474.8 865.6L1478.2 863.5L1481.5 861.4L1484.9 859.4L1488.3 857.4L1491.7 855.4L1495.1 853.4L1498.5 851.4L1501.8 849.5L1505.2 847.6L1508.6 845.6L1512.0 843.7L1515.4 841.9L1518.8 840.0L1522.2 838.1L1524.5 836.9L1559.4 888.9L1566.2 890.7L1572.9 892.5L1579.7 894.2L1586.5 896.0L1593.2 897.8L1600.0 899.5L1606.8 901.3L1613.6 903.0L1620.3 904.8L1627.1 906.5L1633.9 908.3L1640.6 910.0L1647.4 911.8L1654.2 913.5L1660.9 915.2L1667.7 917.0L1674.5 918.7L1681.3 920.4L1688.0 922.2L1694.8 923.9L1701.6 925.6L1708.3 927.4L1715.1 929.1L1721.9 930.8L1728.6 932.5L1735.4 934.2L1742.2 935.9L1749.0 937.6L1755.7 939.4L1762.5 941.1L1769.3 942.8L1776.0 944.5L1782.8 946.2L1789.6 947.9L1796.3 949.6L1803.1 951.2L1809.9 952.9L1816.7 954.6L1823.4 956.3L1830.2 958.0L1837.0 959.7L1843.7 961.4L1850.5 963.0L1857.3 964.7L1864.0 966.4L1870.8 968.1L1877.6 969.7L1884.4 971.4L1891.1 973.1L1897.9 974.7L1904.7 976.4L1911.4 978.0L1918.2 979.7L1925.0 981.4L1931.7 983.0L1938.5 984.7L1945.3 986.3L1952.1 988.0L1958.8 989.6L1965.6 991.2L1972.4 992.9L1979.1 994.5L1985.9 996.2L1992.7 997.8L1999.4 999.4L2006.2 1001.0L2013.0 1002.7L2019.8 1004.3L2026.5 1005.9L2033.3 1007.5L2040.1 1009.2L2046.8 1010.8L2053.6 1012.4L2060.4 1014.0L2067.1 1015.6L2073.9 1017.2L2080.7 1018.8L2087.5 1020.4L2094.2 1022.0L2101.0 1023.6L2107.8 1025.2L2114.5 1026.8L2121.3 1028.4L2128.1 1030.0L2134.8 1031.6L2141.6 1033.2L2148.4 1034.8L2155.2 1036.4L2161.9 1038.0L2168.7 1039.5L2175.5 1041.1L2182.2 1042.7L2189.0 1044.3L2195.8 1045.9L2202.5 1047.4L2209.3 1049.0L2216.1 1050.6L2222.9 1052.1L2229.6 1053.7L2236.4 1055.2L2243.2 1056.8L2249.9 1058.4L2256.7 1059.9L2263.5 1061.5L2270.2 1063.0L2277.0 1064.6L2283.8 1066.1L2290.6 1067.7L2297.3 1069.2L2304.1 1070.7L2310.9 1072.3L2317.6 1073.8L2324.4 1075.4L2331.2 1076.9L2337.9 1078.4L2344.7 1080.0L2351.5 1081.5L2358.3 1083.0L2365.0 1084.5L2371.8 1086.1L2378.6 1087.6L2385.3 1089.1L2392.1 1090.6L2398.9 1092.1L2405.6 1093.6L2412.4 1095.1L2419.2 1096.7L2426.0 1098.2L2432.7 1099.7L2439.5 1101.2L2446.3 1102.7L2453.0 1104.2L2459.8 1105.7L2466.6 1107.2L2473.3 1108.7L2480.1 1110.1L2486.9 1111.6L2493.7 1113.1L2500.4 1114.6L2507.2 1116.1L2514.0 1117.6L2520.7 1119.1L2527.5 1120.5L2534.3 1122.0L2541.0 1123.5L2547.8 1125.0L2554.6 1126.4L2561.4 1127.9L2568.1 1129.4L2574.9 1130.8L2581.7 1132.3L2588.4 1133.8L2595.2 1135.2L2602.0 1136.7L2608.7 1138.1L2615.5 1139.6L2622.3 1141.0L2629.1 1142.5L2635.8 1143.9L2642.6 1145.4L2649.4 1146.8L2656.1 1148.3L2662.9 1149.7L2669.7 1151.2L2676.4 1152.6L2683.2 1154.0L2690.0 1155.5L2696.8 1156.9L2703.5 1158.3L2710.3 1159.8L2717.1 1161.2L2723.8 1162.6L2730.6 1164.0L2737.4 1165.4L2744.1 1166.9L2750.9 1168.3L2757.7 1169.7L2764.5 1171.1L2771.2 1172.5L2778.0 1173.9L2784.8 1175.3L2791.5 1176.8L2798.3 1178.2L2805.1 1179.6L2811.8 1181.0L2818.6 1182.4L2825.4 1183.8L2832.2 1185.2L2838.9 1186.6L2845.7 1187.9L2852.5 1189.3L2859.2 1190.7L2866.0 1192.1L2872.8 1193.5L2879.5 1194.9L2886.3 1196.3L2893.1 1197.6L2899.9 1199.0L2906.6 1200.4L2913.4 1201.8L2920.2 1203.2L2926.9 1204.5L2933.7 1205.9L2940.5 1207.3L2947.2 1208.6L2954.0 1210.0L2960.8 1211.4L2967.6 1212.7L2974.3 1214.1L2981.1 1215.4L2987.9 1216.8L2994.6 1218.1L3001.4 1219.5L3008.2 1220.9L3014.9 1222.2L3021.7 1223.6L3028.5 1224.9L3035.3 1226.2L3042.0 1227.6L3048.8 1228.9L3055.6 1230.3L3062.3 1231.6L3069.1 1232.9L3075.9 1234.3L3082.6 1235.6L3089.4 1236.9L3096.2 1238.3L3103.0 1239.6L3109.7 1240.9L3116.5 1242.2L3123.3 1243.6L3130.0 1244.9L3136.8 1246.2L3143.6 1247.5L3150.3 1248.8L3157.1 1250.2L3159.8 1250.7"/>
<path class="f" d="M454.1 2287.5L713.0 2287.5L747.0 2072.8L750.4 2048.3L753.8 2024.2L757.1 2000.5L760.5 1977.2L763.9 1954.3L767.3 1931.7L770.7 1909.5L774.1 1887.7L777.5 1866.2L780.8 1845.1L784.2 1824.3L787.6 1803.9L791.0 1783.8L794.4 1764.0L797.8 1744.5L801.2 1725.4L804.5 1706.6L807.9 1688.0L811.3 1669.8L814.7 1651.9L818.1 1634.3L821.5 1616.9L824.8 1599.9L828.2 1583.1L831.6 1566.6L835.0 1550.3L838.4 1534.4L841.8 1518.7L845.2 1503.2L848.5 1488.0L851.9 1473.1L855.3 1458.3L858.7 1443.9L862.1 1429.6L865.5 1415.6L868.9 1401.9L872.2 1388.3L875.6 1375.0L879.0 1361.9L882.4 1349.0L885.8 1336.3L889.2 1323.8L892.5 1311.6L895.9 1299.5L899.3 1287.6L902.7 1275.9L906.1 1264.4L909.5 1253.1L912.9 1242.0L916.2 1231.1L919.6 1220.3L923.0 1209.7L926.4 1199.3L929.8 1189.1L933.2 1179.0L936.6 1169.1L939.9 1159.3L943.3 1149.7L946.7 1140.3L950.1 1131.0L953.5 1121.9L956.9 1112.9L960.2 1104.1L963.6 1095.4L967.0 1086.9L970.4 1078.5L973.8 1070.2L977.2 1062.1L980.6 1054.1L983.9 1046.2L987.3 1038.4L990.7 1030.8L994.1 1023.3L997.5 1016.0L1000.9 1008.7L1004.3 1001.6L1007.6 994.6L1011.0 987.7L1014.4 980.9L1017.8 974.2L1021.2 967.6L1024.6 961.2L1027.9 954.8L1031.3 948.6L1034.7 942.4L1038.1 936.4L1041.5 930.4L1044.9 924.6L1048.3 918.8L1051.6 913.1L1055.0 907.6L1058.4 902.1L1061.8 896.7L1065.2 891.4L1068.6 886.2L1072.0 881.0L1075.3 876.0L1078.7 871.0L1082.1 866.1L1085.5 861.3L1088.9 856.6L1092.3 852.0L1095.6 847.4L1099.0 842.9L1102.4 838.5L1105.8 834.1L1109.2 829.8L1112.6 825.6L1116.0 821.5L1119.3 817.4L1122.7 813.4L1126.1 809.5L1129.5 805.6L1132.9 801.8L1136.3 798.0L1139.7 794.3L1143.0 790.7L1146.4 787.1L1149.8 783.6L1153.2 780.1L1156.6 776.7L1160.0 773.4L1163.3 770.1L1166.7 766.9L1170.1 763.7L1173.5 760.5L1176.9 757.5L1180.3 754.4L1183.7 751.5L1187.0 748.5L1190.4 745.6L1193.8 742.8L1197.2 740.0L1200.6 737.3L1204.0 734.6L1207.4 731.9L1210.7 729.3L1214.1 726.7L1217.5 724.2L1220.9 721.7L1224.3 719.3L1227.7 716.8L1231.0 714.5L1234.4 712.2L1237.8 709.9L1241.2 707.6L1244.6 705.4L1248.0 703.2L1251.4 701.1L1254.7 699.0L1258.1 696.9L1261.5 694.8L1264.9 692.8L1268.3 690.9L1271.7 688.9L1275.1 687.0L1278.4 685.1L1281.8 683.3L1285.2 681.4L1288.6 679.7L1292.0 677.9L1295.4 676.2L1298.8 674.5L1302.1 672.8L1305.5 671.1L1308.9 669.5L1312.3 667.9L1315.7 666.3L1319.1 664.8L1322.4 663.3L1325.8 661.8L1329.2 660.3L1332.6 658.9L1336.0 657.5L1339.4 656.1L1342.8 654.7L1346.1 653.3L1349.5 652.0L1352.9 650.7L1356.3 649.4L1359.7 648.1L1363.1 646.9L1366.4 645.7L1369.8 644.5L1373.2 643.3L1376.6 642.1L1380.0 641.0L1383.4 639.8L1386.8 638.7L1390.1 637.6L1393.5 636.5L1396.9 635.5L1400.3 634.4L1403.7 633.4L1407.1 632.4L1410.5 631.4L1413.8 630.5L1417.2 629.5L1420.6 628.6L1424.0 627.6L1427.4 626.7L1430.8 625.8L1434.1 624.9L1437.5 624.1L1440.9 623.2L1444.3 622.4L1447.7 621.5L1451.1 620.7L1454.5 619.9L1457.8 619.2L1461.2 618.4L1464.6 617.6L1468.0 616.9L1471.4 616.1L1474.8 615.4L1478.2 614.7L1481.5 614.0L1484.9 613.3L1488.3 612.6L1491.7 612.0L1495.1 611.3L1498.5 610.7L1501.8 610.0L1505.2 609.4L1508.6 608.8L1512.0 608.2L1515.4 607.6L1518.8 607.0L1522.2 606.4L1524.5 606.0L1559.4 648.9L1566.2 651.0L1572.9 653.0L1579.7 655.1L1586.5 657.2L1593.2 659.2L1600.0 661.3L1606.8 663.4L1613.6 665.4L1620.3 667.5L1627.1 669.5L1633.9 671.6L1640.6 673.6L1647.4 675.7L1654.2 677.7L1660.9 679.7L1667.7 681.8L1674.5 683.8L1681.3 685.8L1688.0 687.8L1694.8 689.9L1701.6 691.9L1708.3 693.9L1715.1 695.9L1721.9 697.9L1728.6 700.0L1735.4 702.0L1742.2 704.0L1749.0 706.0L1755.7 708.0L1762.5 710.0L1769.3 712.0L1776.0 714.0L1782.8 716.0L1789.6 717.9L1796.3 719.9L1803.1 721.9L1809.9 723.9L1816.7 725.9L1823.4 727.8L1830.2 729.8L1837.0 731.8L1843.7 733.8L1850.5 735.7L1857.3 737.7L1864.0 739.6L1870.8 741.6L1877.6 743.6L1884.4 745.5L1891.1 747.5L1897.9 749.4L1904.7 751.4L1911.4 753.3L1918.2 755.2L1925.0 757.2L1931.7 759.1L1938.5 761.1L1945.3 763.0L1952.1 764.9L1958.8 766.8L1965.6 768.8L1972.4 770.7L1979.1 772.6L1985.9 774.5L1992.7 776.4L1999.4 778.3L2006.2 780.3L2013.0 782.2L2019.8 784.1L2026.5 786.0L2033.3 787.9L2040.1 789.8L2046.8 791.7L2053.6 793.6L2060.4 795.4L2067.1 797.3L2073.9 799.2L2080.7 801.1L2087.5 803.0L2094.2 804.9L2101.0 806.7L2107.8 808.6L2114.5 810.5L2121.3 812.3L2128.1 814.2L2134.8 816.1L2141.6 817.9L2148.4 819.8L2155.2 821.7L2161.9 823.5L2168.7 825.4L2175.5 827.2L2182.2 829.1L2189.0 830.9L2195.8 832.7L2202.5 834.6L2209.3 836.4L2216.1 838.3L2222.9 840.1L2229.6 841.9L2236.4 843.8L2243.2 845.6L2249.9 847.4L2256.7 849.2L2263.5 851.0L2270.2 852.9L2277.0 854.7L2283.8 856.5L2290.6 858.3L2297.3 860.1L2304.1 861.9L2310.9 863.7L2317.6 865.5L2324.4 867.3L2331.2 869.1L2337.9 870.9L2344.7 872.7L2351.5 874.5L2358.3 876.3L2365.0 878.1L2371.8 879.9L2378.6 881.6L2385.3 883.4L2392.1 885.2L2398.9 887.0L2405.6 888.7L2412.4 890.5L2419.2 892.3L2426.0 894.0L2432.7 895.8L2439.5 897.6L2446.3 899.3L2453.0 901.1L2459.8 902.8L2466.6 904.6L2473.3 906.3L2480.1 908.1L2486.9 909.8L2493.7 911.6L2500.4 913.3L2507.2 915.0L2514.0 916.8L2520.7 918.5L2527.5 920.3L2534.3 922.0L2541.0 923.7L2547.8 925.4L2554.6 927.2L2561.4 928.9L2568.1 930.6L2574.9 932.3L2581.7 934.0L2588.4 935.7L2595.2 937.5L2602.0 939.2L2608.7 940.9L2615.5 942.6L2622.3 944.3L2629.1 946.0L2635.8 947.7L2642.6 949.4L2649.4 951.1L2656.1 952.7L2662.9 954.4L2669.7 956.1L2676.4 957.8L2683.2 959.5L2690.0 961.2L2696.8 962.8L2703.5 964.5L2710.3 966.2L2717.1 967.9L2723.8 969.5L2730.6 971.2L2737.4 972.9L2744.1 974.5L2750.9 976.2L2757.7 977.9L2764.5 979.5L2771.2 981.2L2778.0 982.8L2784.8 984.5L2791.5 986.1L2798.3 987.8L2805.1 989.4L2811.8 991.1L2818.6 992.7L2825.4 994.3L2832.2 996.0L2838.9 997.6L2845.7 999.2L2852.5 1000.9L2859.2 1002.5L2866.0 1004.1L2872.8 1005.7L2879.5 1007.4L2886.3 1009.0L2893.1 1010.6L2899.9 1012.2L2906.6 1013.8L2913.4 1015.4L2920.2 1017.0L2926.9 1018.7L2933.7 1020.3L2940.5 1021.9L2947.2 1023.5L2954.0 1025.1L2960.8 1026.7L2967.6 1028.3L2974.3 1029.8L2981.1 1031.4L2987.9 1033.0L2994.6 1034.6L3001.4 1036.2L3008.2 1037.8L3014.9 1039.4L3021.7 1040.9L3028.5 1042.5L3035.3 1044.1L3042.0 1045.7L3048.8 1047.2L3055.6 1048.8L3062.3 1050.4L3069.1 1051.9L3075.9 1053.5L3082.6 1055.1L3089.4 1056.6L3096.2 1058.2L3103.0 1059.7L3109.7 1061.3L3116.5 1062.8L3123.3 1064.4L3130.0 1065.9L3136.8 1067.5L3143.6 1069.0L3150.3 1070.6L3157.1 1072.1L3159.8 1072.7"/>
<path class="f" d="M454.1 2287.5L713.0 2287.5L747.0 1807.9L750.4 1764.3L753.8 1722.2L757.1 1681.4L760.5 1641.9L763.9 1603.7L767.3 1566.6L770.7 1530.8L774.1 1496.0L777.5 1462.4L780.8 1429.9L784.2 1398.4L787.6 1367.8L791.0 1338.3L794.4 1309.7L797.8 1282.0L801.2 1255.2L804.5 1229.2L807.9 1204.1L811.3 1179.7L814.7 1156.2L818.1 1133.3L821.5 1111.2L824.8 1089.8L828.2 1069.1L831.6 1049.1L835.0 1029.6L838.4 1010.8L841.8 992.6L845.2 975.0L848.5 957.9L851.9 941.4L855.3 925.4L858.7 909.9L862.1 894.9L865.5 880.4L868.9 866.3L872.2 852.7L875.6 839.5L879.0 826.7L882.4 814.4L885.8 802.4L889.2 790.8L892.5 779.6L895.9 768.7L899.3 758.2L902.7 748.0L906.1 738.2L909.5 728.6L912.9 719.4L916.2 710.4L919.6 701.7L923.0 693.3L926.4 685.2L929.8 677.4L933.2 669.7L936.6 662.4L939.9 655.2L943.3 648.3L946.7 641.6L950.1 635.1L953.5 628.8L956.9 622.8L960.2 616.9L963.6 611.2L967.0 605.7L970.4 600.3L973.8 595.1L977.2 590.1L980.6 585.3L983.9 580.6L987.3 576.1L990.7 571.6L994.1 567.4L997.5 563.3L1000.9 559.3L1004.3 555.4L1007.6 551.7L1011.0 548.0L1014.4 544.5L1017.8 541.1L1021.2 537.8L1024.6 534.6L1027.9 531.5L1031.3 528.6L1034.7 525.7L1038.1 522.9L1041.5 520.1L1044.9 517.5L1048.3 515.0L1051.6 512.5L1055.0 510.1L1058.4 507.8L1061.8 505.6L1065.2 503.4L1068.6 501.3L1072.0 499.3L1075.3 497.3L1078.7 495.4L1082.1 493.6L1085.5 491.8L1088.9 490.1L1092.3 488.4L1095.6 486.8L1099.0 485.2L1102.4 483.7L1105.8 482.2L1109.2 480.8L1112.6 479.4L1116.0 478.1L1119.3 476.8L1122.7 475.6L1126.1 474.4L1129.5 473.2L1132.9 472.0L1136.3 470.9L1139.7 469.9L1143.0 468.9L1146.4 467.9L1149.8 466.9L1153.2 466.0L1156.6 465.0L1160.0 464.2L1163.3 463.3L1166.7 462.5L1170.1 461.7L1173.5 460.9L1176.9 460.2L1180.3 459.5L1183.7 458.8L1187.0 458.1L1190.4 457.4L1193.8 456.8L1197.2 456.2L1200.6 455.6L1204.0 455.0L1207.4 454.5L1210.7 453.9L1214.1 453.4L1217.5 452.9L1220.9 452.4L1224.3 451.9L1227.7 451.5L1231.0 451.0L1234.4 450.6L1237.8 450.2L1241.2 449.8L1244.6 449.4L1248.0 449.0L1251.4 448.6L1254.7 448.3L1258.1 447.9L1261.5 447.6L1264.9 447.3L1268.3 447.0L1271.7 446.7L1275.1 446.4L1278.4 446.1L1281.8 445.8L1285.2 445.5L1288.6 445.3L1292.0 445.0L1295.4 444.8L1298.8 444.6L1302.1 444.3L1305.5 444.1L1308.9 443.9L1312.3 443.7L1315.7 443.5L1319.1 443.3L1322.4 443.1L1325.8 442.9L1329.2 442.8L1332.6 442.6L1336.0 442.4L1339.4 442.3L1342.8 442.1L1346.1 442.0L1349.5 441.8L1352.9 441.7L1356.3 441.5L1359.7 441.4L1363.1 441.3L1366.4 441.2L1369.8 441.1L1373.2 440.9L1376.6 440.8L1380.0 440.7L1383.4 440.6L1386.8 440.5L1390.1 440.4L1393.5 440.3L1396.9 440.2L1400.3 440.1L1403.7 440.1L1407.1 440.0L1410.5 439.9L1413.8 439.8L1417.2 439.7L1420.6 439.7L1424.0 439.6L1427.4 439.5L1430.8 439.5L1434.1 439.4L1437.5 439.3L1440.9 439.3L1444.3 439.2L1447.7 439.2L1451.1 439.1L1454.5 439.0L1457.8 439.0L1461.2 438.9L1464.6 438.9L1468.0 438.9L1471.4 438.8L1474.8 438.8L1478.2 438.7L1481.5 438.7L1484.9 438.6L1488.3 438.6L1491.7 438.6L1495.1 438.5L1498.5 438.5L1501.8 438.5L1505.2 438.4L1508.6 438.4L1512.0 438.4L1515.4 438.3L1518.8 438.3L1522.2 438.3L1524.5 438.3L1559.4 582.8L1566.2 584.9L1572.9 587.1L1579.7 589.2L1586.5 591.4L1593.2 593.5L1600.0 595.7L1606.8 597.8L1613.6 600.0L1620.3 602.1L1627.1 604.2L1633.9 606.3L1640.6 608.5L1647.4 610.6L1654.2 612.7L1660.9 614.8L1667.7 617.0L1674.5 619.1L1681.3 621.2L1688.0 623.3L1694.8 625.4L1701.6 627.5L1708.3 629.6L1715.1 631.7L1721.9 633.8L1728.6 635.9L1735.4 638.0L1742.2 640.1L1749.0 642.1L1755.7 644.2L1762.5 646.3L1769.3 648.4L1776.0 650.5L1782.8 652.5L1789.6 654.6L1796.3 656.7L1803.1 658.7L1809.9 660.8L1816.7 662.8L1823.4 664.9L1830.2 667.0L1837.0 669.0L1843.7 671.0L1850.5 673.1L1857.3 675.1L1864.0 677.2L1870.8 679.2L1877.6 681.2L1884.4 683.3L1891.1 685.3L1897.9 687.3L1904.7 689.4L1911.4 691.4L1918.2 693.4L1925.0 695.4L1931.7 697.4L1938.5 699.4L1945.3 701.5L1952.1 703.5L1958.8 705.5L1965.6 707.5L1972.4 709.5L1979.1 711.5L1985.9 713.5L1992.7 715.4L1999.4 717.4L2006.2 719.4L2013.0 721.4L2019.8 723.4L2026.5 725.4L2033.3 727.3L2040.1 729.3L2046.8 731.3L2053.6 733.3L2060.4 735.2L2067.1 737.2L2073.9 739.2L2080.7 741.1L2087.5 743.1L2094.2 745.0L2101.0 747.0L2107.8 748.9L2114.5 750.9L2121.3 752.8L2128.1 754.8L2134.8 756.7L2141.6 758.6L2148.4 760.6L2155.2 762.5L2161.9 764.4L2168.7 766.4L2175.5 768.3L2182.2 770.2L2189.0 772.1L2195.8 774.0L2202.5 776.0L2209.3 777.9L2216.1 779.8L2222.9 781.7L2229.6 783.6L2236.4 785.5L2243.2 787.4L2249.9 789.3L2256.7 791.2L2263.5 793.1L2270.2 795.0L2277.0 796.9L2283.8 798.7L2290.6 800.6L2297.3 802.5L2304.1 804.4L2310.9 806.3L2317.6 808.1L2324.4 810.0L2331.2 811.9L2337.9 813.7L2344.7 815.6L2351.5 817.5L2358.3 819.3L2365.0 821.2L2371.8 823.0L2378.6 824.9L2385.3 826.7L2392.1 828.6L2398.9 830.4L2405.6 832.3L2412.4 834.1L2419.2 836.0L2426.0 837.8L2432.7 839.6L2439.5 841.5L2446.3 843.3L2453.0 845.1L2459.8 846.9L2466.6 848.8L2473.3 850.6L2480.1 852.4L2486.9 854.2L2493.7 856.0L2500.4 857.8L2507.2 859.7L2514.0 861.5L2520.7 863.3L2527.5 865.1L2534.3 866.9L2541.0 868.7L2547.8 870.5L2554.6 872.3L2561.4 874.0L2568.1 875.8L2574.9 877.6L2581.7 879.4L2588.4 881.2L2595.2 883.0L2602.0 884.7L2608.7 886.5L2615.5 888.3L2622.3 890.1L2629.1 891.8L2635.8 893.6L2642.6 895.4L2649.4 897.1L2656.1 898.9L2662.9 900.6L2669.7 902.4L2676.4 904.1L2683.2 905.9L2690.0 907.6L2696.8 909.4L2703.5 911.1L2710.3 912.9L2717.1 914.6L2723.8 916.3L2730.6 918.1L2737.4 919.8L2744.1 921.5L2750.9 923.3L2757.7 925.0L2764.5 926.7L2771.2 928.4L2778.0 930.2L2784.8 931.9L2791.5 933.6L2798.3 935.3L2805.1 937.0L2811.8 938.7L2818.6 940.4L2825.4 942.1L2832.2 943.8L2838.9 945.5L2845.7 947.2L2852.5 948.9L2859.2 950.6L2866.0 952.3L2872.8 954.0L2879.5 955.7L2886.3 957.4L2893.1 959.1L2899.9 960.7L2906.6 962.4L2913.4 964.1L2920.2 965.8L2926.9 967.4L2933.7 969.1L2940.5 970.8L2947.2 972.4L2954.0 974.1L2960.8 975.8L2967.6 977.4L2974.3 979.1L2981.1 980.7L2987.9 982.4L2994.6 984.1L3001.4 985.7L3008.2 987.3L3014.9 989.0L3021.7 990.6L3028.5 992.3L3035.3 993.9L3042.0 995.6L3048.8 997.2L3055.6 998.8L3062.3 1000.4L3069.1 1002.1L3075.9 1003.7L3082.6 1005.3L3089.4 1007.0L3096.2 1008.6L3103.0 1010.2L3109.7 1011.8L3116.5 1013.4L3123.3 1015.0L3130.0 1016.6L3136.8 1018.2L3143.6 1019.9L3150.3 1021.5L3157.1 1023.1L3159.8 1023.7"/>
</g>
<g stroke="#000" stroke-width="7" fill="none">
<path d="M384.5 2403.5V2374.33"/>
<path d="M723.5 2403.5V2374.33"/>
<path d="M1061.5 2403.5V2374.33"/>
<path d="M1400.5 2403.5V2374.33"/>
<path d="M1738.5 2403.5V2374.33"/>
<path d="M2077.5 2403.5V2374.33"/>
<path d="M2415.5 2403.5V2374.33"/>
<path d="M2754.5 2403.5V2374.33"/>
<path d="M3092.5 2403.5V2374.33"/>
<path d="M318.5 2287.5H347.67"/>
<path d="M318.5 1981.5H347.67"/>
<path d="M318.5 1675.5H347.67"/>
<path d="M318.5 1369.5H347.67"/>
<path d="M318.5 1062.5H347.67"/>
<path d="M318.5 756.5H347.67"/>
<path d="M318.5 450.5H347.67"/>
<path stroke-linecap="square" d="M318.5 185.5V2403.5"/>
<path stroke-linecap="square" d="M318.5 2403.5H3294.5"/>
</g>
<g class="t">
<text x="384.8" y="2495" text-anchor="middle">−25</text>
<text x="723.3" y="2495" text-anchor="middle">0</text>
<text x="1061.8" y="2495" text-anchor="middle">25</text>
<text x="1400.3" y="2495" text-anchor="middle">50</text>
<text x="1738.8" y="2495" text-anchor="middle">75</text>
<text x="2077.3" y="2495" text-anchor="middle">100</text>
<text x="2415.8" y="2495" text-anchor="middle">125</text>
<text x="2754.3" y="2495" text-anchor="middle">150</text>
<text x="3092.8" y="2495" text-anchor="middle">175</text>
<text x="289.3" y="2311.8" text-anchor="end">0</text>
<text x="289.3" y="2005.6" text-anchor="end">5</text>
<text x="289.3" y="1699.5" text-anchor="end">10</text>
<text x="289.3" y="1393.3" text-anchor="end">15</text>
<text x="289.3" y="1087.1" text-anchor="end">20</text>
<text x="289.3" y="781.0" text-anchor="end">25</text>
<text x="289.3" y="474.8" text-anchor="end">30</text>
<text x="1806.5" y="2602" text-anchor="middle">Time (s)</text>
<text transform="translate(123 1295.5) rotate(-90)" text-anchor="middle">Relative response (RU)</text>
</g>
<text class="h" x="1805.5" y="136" text-anchor="middle">KD = 2.02E-10M</text>
</svg></body></html>
